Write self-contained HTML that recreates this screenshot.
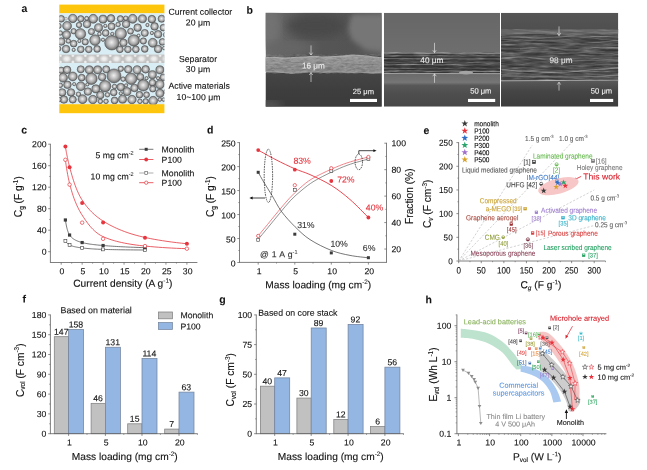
<!DOCTYPE html>
<html><head><meta charset="utf-8"><title>figure</title>
<style>
html,body{margin:0;padding:0;background:#fff;}
body{width:647px;height:470px;overflow:hidden;font-family:"Liberation Sans",sans-serif;}
svg{display:block;will-change:transform;}
text{font-family:"Liberation Sans",sans-serif;}
</style></head><body>
<svg width="647" height="470" viewBox="0 0 647 470">
<defs>
<radialGradient id="sepg"><stop offset="0" stop-color="#f4f4f4"/><stop offset="0.45" stop-color="#ececec" stop-opacity="0.9"/><stop offset="1" stop-color="#e0e0e0" stop-opacity="0"/></radialGradient>
<clipPath id="clipsep"><rect x="59.3" y="54.6" width="105.1" height="8.4"/></clipPath>
<radialGradient id="sph" cx="0.48" cy="0.47" r="0.54"><stop offset="0" stop-color="#f0eeee"/><stop offset="0.3" stop-color="#d0cfcf"/><stop offset="0.6" stop-color="#acacac"/><stop offset="0.85" stop-color="#7e7e7e"/><stop offset="1" stop-color="#5a5a5a"/></radialGradient>
<clipPath id="clipa"><rect x="59.3" y="13.4" width="105.1" height="90.8"/></clipPath>
<filter id="noise1" x="0" y="0" width="1" height="1"><feTurbulence type="fractalNoise" baseFrequency="0.25 0.9" numOctaves="2" seed="3" result="n"/><feColorMatrix type="matrix" values="0 0 0 0 1  0 0 0 0 1  0 0 0 0 1  0.9 0 0 0 -0.28"/></filter>
<filter id="noise2" x="0" y="0" width="1" height="1"><feTurbulence type="fractalNoise" baseFrequency="0.06 0.7" numOctaves="3" seed="11" result="n"/><feColorMatrix type="matrix" values="0 0 0 0 1  0 0 0 0 1  0 0 0 0 1  1.6 0 0 0 -0.62"/></filter>
<filter id="noise3" x="0" y="0" width="1" height="1"><feTurbulence type="fractalNoise" baseFrequency="0.05 0.55" numOctaves="3" seed="5" result="n"/><feColorMatrix type="matrix" values="0 0 0 0 1  0 0 0 0 1  0 0 0 0 1  1.5 0 0 0 -0.6"/></filter>
<filter id="noise3d" x="0" y="0" width="1" height="1"><feTurbulence type="fractalNoise" baseFrequency="0.04 0.5" numOctaves="3" seed="23" result="n"/><feColorMatrix type="matrix" values="0 0 0 0 0  0 0 0 0 0  0 0 0 0 0  1.8 0 0 0 -0.75"/></filter>
<filter id="noise1d" x="0" y="0" width="1" height="1"><feTurbulence type="fractalNoise" baseFrequency="0.12 0.5" numOctaves="3" seed="41" result="n"/><feColorMatrix type="matrix" values="0 0 0 0 0  0 0 0 0 0  0 0 0 0 0  1.8 0 0 0 -0.75"/></filter>
<filter id="blur3"><feGaussianBlur stdDeviation="5"/></filter>
<filter id="blur1"><feGaussianBlur stdDeviation="0.7"/></filter>
<clipPath id="c1"><rect x="265.6" y="12.8" width="116.2" height="93.9"/></clipPath>
<linearGradient id="s1bg" x1="0" y1="0" x2="1" y2="0"><stop offset="0" stop-color="#6e6e6e"/><stop offset="0.35" stop-color="#565656"/><stop offset="0.75" stop-color="#545454"/><stop offset="1" stop-color="#5e5e5e"/></linearGradient>
<linearGradient id="s1lo" x1="0" y1="0" x2="0" y2="1"><stop offset="0" stop-color="#454545"/><stop offset="0.5" stop-color="#3e3e3e"/><stop offset="1" stop-color="#3a3a3a"/></linearGradient>
<linearGradient id="s1st" x1="0" y1="0" x2="0" y2="1"><stop offset="0" stop-color="#a4a4a4"/><stop offset="0.25" stop-color="#949494"/><stop offset="0.8" stop-color="#868686"/><stop offset="1" stop-color="#969696"/></linearGradient>
<filter id="blur2"><feGaussianBlur stdDeviation="2.6"/></filter>
<clipPath id="c2"><rect x="383.9" y="12.8" width="116.1" height="93.9"/></clipPath>
<linearGradient id="s2bg" x1="0" y1="0" x2="0" y2="1"><stop offset="0" stop-color="#676767"/><stop offset="1" stop-color="#6e6e6e"/></linearGradient>
<linearGradient id="s2lo" x1="0" y1="0" x2="0" y2="1"><stop offset="0" stop-color="#6a6a6a"/><stop offset="0.18" stop-color="#717171"/><stop offset="0.27" stop-color="#767676"/><stop offset="0.36" stop-color="#585858"/><stop offset="0.6" stop-color="#4e4e4e"/><stop offset="1" stop-color="#474747"/></linearGradient>
<clipPath id="c3"><rect x="501" y="12.8" width="117.3" height="93.9"/></clipPath>
<linearGradient id="s3bg" x1="0" y1="0" x2="0" y2="1"><stop offset="0" stop-color="#555555"/><stop offset="1" stop-color="#4e4e4e"/></linearGradient>
<linearGradient id="s3lo" x1="0" y1="0" x2="0" y2="1"><stop offset="0" stop-color="#585858"/><stop offset="0.4" stop-color="#454545"/><stop offset="1" stop-color="#3c3c3c"/></linearGradient>
</defs>
<rect x="0" y="0" width="647" height="470" fill="#ffffff"/>
<text x="21.5" y="11.98" font-size="10.5" text-anchor="start" fill="#111" stroke="#111" stroke-width="0.06" font-weight="bold" transform="rotate(0.03 21.5 11.98)" >a</text>
<rect x="59.3" y="4.6" width="105.1" height="8.8" fill="#fdc50c" />
<rect x="59.3" y="13.3" width="105.1" height="91" fill="#d9edf4" />
<rect x="59.3" y="104.2" width="105.1" height="9" fill="#fdc50c" />
<rect x="59.3" y="54.6" width="105.1" height="8.4" fill="#c2c2c2" />
<g clip-path="url(#clipsep)">
<ellipse cx="54.25" cy="58.8" rx="5.0" ry="4.2" fill="url(#sepg)"/>
<circle cx="60.45" cy="55.6" r="2.0" fill="url(#sepg)"/>
<circle cx="60.45" cy="62.0" r="2.0" fill="url(#sepg)"/>
<ellipse cx="66.7" cy="58.8" rx="5.0" ry="4.2" fill="url(#sepg)"/>
<circle cx="72.9" cy="55.6" r="2.0" fill="url(#sepg)"/>
<circle cx="72.9" cy="62.0" r="2.0" fill="url(#sepg)"/>
<ellipse cx="79.15" cy="58.8" rx="5.0" ry="4.2" fill="url(#sepg)"/>
<circle cx="85.35" cy="55.6" r="2.0" fill="url(#sepg)"/>
<circle cx="85.35" cy="62.0" r="2.0" fill="url(#sepg)"/>
<ellipse cx="91.6" cy="58.8" rx="5.0" ry="4.2" fill="url(#sepg)"/>
<circle cx="97.8" cy="55.6" r="2.0" fill="url(#sepg)"/>
<circle cx="97.8" cy="62.0" r="2.0" fill="url(#sepg)"/>
<ellipse cx="104.05" cy="58.8" rx="5.0" ry="4.2" fill="url(#sepg)"/>
<circle cx="110.25" cy="55.6" r="2.0" fill="url(#sepg)"/>
<circle cx="110.25" cy="62.0" r="2.0" fill="url(#sepg)"/>
<ellipse cx="116.5" cy="58.8" rx="5.0" ry="4.2" fill="url(#sepg)"/>
<circle cx="122.7" cy="55.6" r="2.0" fill="url(#sepg)"/>
<circle cx="122.7" cy="62.0" r="2.0" fill="url(#sepg)"/>
<ellipse cx="128.95" cy="58.8" rx="5.0" ry="4.2" fill="url(#sepg)"/>
<circle cx="135.15" cy="55.6" r="2.0" fill="url(#sepg)"/>
<circle cx="135.15" cy="62.0" r="2.0" fill="url(#sepg)"/>
<ellipse cx="141.4" cy="58.8" rx="5.0" ry="4.2" fill="url(#sepg)"/>
<circle cx="147.6" cy="55.6" r="2.0" fill="url(#sepg)"/>
<circle cx="147.6" cy="62.0" r="2.0" fill="url(#sepg)"/>
<ellipse cx="153.85" cy="58.8" rx="5.0" ry="4.2" fill="url(#sepg)"/>
<circle cx="160.05" cy="55.6" r="2.0" fill="url(#sepg)"/>
<circle cx="160.05" cy="62.0" r="2.0" fill="url(#sepg)"/>
<ellipse cx="166.3" cy="58.8" rx="5.0" ry="4.2" fill="url(#sepg)"/>
<circle cx="172.5" cy="55.6" r="2.0" fill="url(#sepg)"/>
<circle cx="172.5" cy="62.0" r="2.0" fill="url(#sepg)"/>
</g>
<g clip-path="url(#clipa)">
<circle cx="61.22" cy="18.77" r="3.38" fill="url(#sph)" stroke="#525252" stroke-width="0.6"/>
<circle cx="66.02" cy="18.77" r="1.46" fill="#dcdcdc" stroke="#7c7c7c" stroke-width="0.45"/>
<circle cx="72.77" cy="18.42" r="4.23" fill="url(#sph)" stroke="#525252" stroke-width="0.6"/>
<circle cx="80.77" cy="18.77" r="3.16" fill="url(#sph)" stroke="#525252" stroke-width="0.6"/>
<circle cx="86.64" cy="18.42" r="2.1" fill="url(#sph)" stroke="#525252" stroke-width="0.6"/>
<circle cx="93.22" cy="18.77" r="4.44" fill="url(#sph)" stroke="#525252" stroke-width="0.6"/>
<circle cx="102.99" cy="19.13" r="4.02" fill="url(#sph)" stroke="#525252" stroke-width="0.6"/>
<circle cx="110.99" cy="18.42" r="3.8" fill="url(#sph)" stroke="#525252" stroke-width="0.6"/>
<circle cx="120.41" cy="18.77" r="3.16" fill="url(#sph)" stroke="#525252" stroke-width="0.6"/>
<circle cx="125.74" cy="18.24" r="2.31" fill="url(#sph)" stroke="#525252" stroke-width="0.6"/>
<circle cx="132.68" cy="18.77" r="4.44" fill="url(#sph)" stroke="#525252" stroke-width="0.6"/>
<circle cx="142.45" cy="18.77" r="4.02" fill="url(#sph)" stroke="#525252" stroke-width="0.6"/>
<circle cx="151.87" cy="19.13" r="3.8" fill="url(#sph)" stroke="#525252" stroke-width="0.6"/>
<circle cx="161.65" cy="18.77" r="3.59" fill="url(#sph)" stroke="#525252" stroke-width="0.6"/>
<circle cx="67.09" cy="25.88" r="4.44" fill="url(#sph)" stroke="#525252" stroke-width="0.6"/>
<circle cx="79" cy="25" r="2.74" fill="url(#sph)" stroke="#525252" stroke-width="0.6"/>
<circle cx="86.99" cy="24.11" r="3.8" fill="url(#sph)" stroke="#525252" stroke-width="0.6"/>
<circle cx="98.55" cy="27.66" r="4.02" fill="url(#sph)" stroke="#525252" stroke-width="0.6"/>
<circle cx="105.3" cy="25.88" r="1.67" fill="url(#sph)" stroke="#525252" stroke-width="0.6"/>
<circle cx="111.52" cy="26.42" r="3.59" fill="url(#sph)" stroke="#525252" stroke-width="0.6"/>
<circle cx="118.1" cy="24.46" r="2.31" fill="url(#sph)" stroke="#525252" stroke-width="0.6"/>
<circle cx="126.1" cy="24.11" r="3.8" fill="url(#sph)" stroke="#525252" stroke-width="0.6"/>
<circle cx="137.65" cy="27.66" r="3.8" fill="url(#sph)" stroke="#525252" stroke-width="0.6"/>
<circle cx="147.43" cy="25" r="1.67" fill="url(#sph)" stroke="#525252" stroke-width="0.6"/>
<circle cx="154.54" cy="26.42" r="3.8" fill="url(#sph)" stroke="#525252" stroke-width="0.6"/>
<circle cx="163.43" cy="27.66" r="3.38" fill="url(#sph)" stroke="#525252" stroke-width="0.6"/>
<circle cx="60.33" cy="32.99" r="2.31" fill="url(#sph)" stroke="#525252" stroke-width="0.6"/>
<circle cx="66.55" cy="34.77" r="4.02" fill="url(#sph)" stroke="#525252" stroke-width="0.6"/>
<circle cx="73.66" cy="31.22" r="2.74" fill="url(#sph)" stroke="#525252" stroke-width="0.6"/>
<circle cx="80.42" cy="33.88" r="5.3" fill="url(#sph)" stroke="#525252" stroke-width="0.6"/>
<circle cx="91.44" cy="31.57" r="3.16" fill="url(#sph)" stroke="#525252" stroke-width="0.6"/>
<circle cx="99.44" cy="33.88" r="1.88" fill="url(#sph)" stroke="#525252" stroke-width="0.6"/>
<circle cx="105.66" cy="32.99" r="3.38" fill="url(#sph)" stroke="#525252" stroke-width="0.6"/>
<circle cx="112.23" cy="33.88" r="1.67" fill="url(#sph)" stroke="#525252" stroke-width="0.6"/>
<circle cx="120.77" cy="33.53" r="5.72" fill="url(#sph)" stroke="#525252" stroke-width="0.6"/>
<circle cx="130.54" cy="31.22" r="2.95" fill="url(#sph)" stroke="#525252" stroke-width="0.6"/>
<circle cx="138.54" cy="35.66" r="1.67" fill="url(#sph)" stroke="#525252" stroke-width="0.6"/>
<circle cx="144.76" cy="32.99" r="3.59" fill="url(#sph)" stroke="#525252" stroke-width="0.6"/>
<circle cx="151.87" cy="32.99" r="1.67" fill="url(#sph)" stroke="#525252" stroke-width="0.6"/>
<circle cx="158.09" cy="34.24" r="3.8" fill="url(#sph)" stroke="#525252" stroke-width="0.6"/>
<circle cx="61.22" cy="41.53" r="3.8" fill="url(#sph)" stroke="#525252" stroke-width="0.6"/>
<circle cx="68.33" cy="40.99" r="2.31" fill="url(#sph)" stroke="#525252" stroke-width="0.6"/>
<circle cx="73.66" cy="43.66" r="3.38" fill="url(#sph)" stroke="#525252" stroke-width="0.6"/>
<circle cx="79.35" cy="40.99" r="1.67" fill="url(#sph)" stroke="#525252" stroke-width="0.6"/>
<circle cx="85.22" cy="41.88" r="3.16" fill="url(#sph)" stroke="#525252" stroke-width="0.6"/>
<circle cx="94.99" cy="40.1" r="5.3" fill="url(#sph)" stroke="#525252" stroke-width="0.6"/>
<circle cx="102.99" cy="39.75" r="1.67" fill="url(#sph)" stroke="#525252" stroke-width="0.6"/>
<circle cx="111.88" cy="42.77" r="7.22" fill="url(#sph)" stroke="#525252" stroke-width="0.6"/>
<circle cx="123.43" cy="42.77" r="3.8" fill="url(#sph)" stroke="#525252" stroke-width="0.6"/>
<circle cx="133.74" cy="40.46" r="5.72" fill="url(#sph)" stroke="#525252" stroke-width="0.6"/>
<circle cx="143.34" cy="40.99" r="3.16" fill="url(#sph)" stroke="#525252" stroke-width="0.6"/>
<circle cx="152.76" cy="42.77" r="4.44" fill="url(#sph)" stroke="#525252" stroke-width="0.6"/>
<circle cx="162.54" cy="41.88" r="3.38" fill="url(#sph)" stroke="#525252" stroke-width="0.6"/>
<circle cx="66.02" cy="48.99" r="3.8" fill="url(#sph)" stroke="#525252" stroke-width="0.6"/>
<circle cx="73.66" cy="49.88" r="1.67" fill="url(#sph)" stroke="#525252" stroke-width="0.6"/>
<circle cx="80.77" cy="49.35" r="3.38" fill="url(#sph)" stroke="#525252" stroke-width="0.6"/>
<circle cx="88.77" cy="49.35" r="3.38" fill="url(#sph)" stroke="#525252" stroke-width="0.6"/>
<circle cx="97.13" cy="48.99" r="3.38" fill="url(#sph)" stroke="#525252" stroke-width="0.6"/>
<circle cx="119.88" cy="49.35" r="3.38" fill="url(#sph)" stroke="#525252" stroke-width="0.6"/>
<circle cx="127.88" cy="49.35" r="3.38" fill="url(#sph)" stroke="#525252" stroke-width="0.6"/>
<circle cx="135.87" cy="49.35" r="3.38" fill="url(#sph)" stroke="#525252" stroke-width="0.6"/>
<circle cx="144.76" cy="48.99" r="3.38" fill="url(#sph)" stroke="#525252" stroke-width="0.6"/>
<circle cx="158.09" cy="48.99" r="3.8" fill="url(#sph)" stroke="#525252" stroke-width="0.6"/>
<circle cx="164.31" cy="48.1" r="1.88" fill="url(#sph)" stroke="#525252" stroke-width="0.6"/>
<circle cx="58.55" cy="25.88" r="2.74" fill="url(#sph)" stroke="#525252" stroke-width="0.6"/>
<circle cx="58.2" cy="48.64" r="2.74" fill="url(#sph)" stroke="#525252" stroke-width="0.6"/>
<circle cx="166.09" cy="34.77" r="2.74" fill="url(#sph)" stroke="#525252" stroke-width="0.6"/>
<circle cx="61.22" cy="70.22" r="3.16" fill="url(#sph)" stroke="#525252" stroke-width="0.6"/>
<circle cx="67.09" cy="69.86" r="3.8" fill="url(#sph)" stroke="#525252" stroke-width="0.6"/>
<circle cx="80.77" cy="69.33" r="3.59" fill="url(#sph)" stroke="#525252" stroke-width="0.6"/>
<circle cx="89.31" cy="69.86" r="4.02" fill="url(#sph)" stroke="#525252" stroke-width="0.6"/>
<circle cx="97.66" cy="69.86" r="4.02" fill="url(#sph)" stroke="#525252" stroke-width="0.6"/>
<circle cx="106.19" cy="69.33" r="3.59" fill="url(#sph)" stroke="#525252" stroke-width="0.6"/>
<circle cx="120.77" cy="68.8" r="2.74" fill="url(#sph)" stroke="#525252" stroke-width="0.6"/>
<circle cx="128.23" cy="69.33" r="3.8" fill="url(#sph)" stroke="#525252" stroke-width="0.6"/>
<circle cx="137.12" cy="69.86" r="4.23" fill="url(#sph)" stroke="#525252" stroke-width="0.6"/>
<circle cx="145.65" cy="69.33" r="3.8" fill="url(#sph)" stroke="#525252" stroke-width="0.6"/>
<circle cx="159.87" cy="69.86" r="4.02" fill="url(#sph)" stroke="#525252" stroke-width="0.6"/>
<circle cx="63" cy="77.69" r="4.44" fill="url(#sph)" stroke="#525252" stroke-width="0.6"/>
<circle cx="72.77" cy="76.44" r="4.44" fill="url(#sph)" stroke="#525252" stroke-width="0.6"/>
<circle cx="81.66" cy="77.69" r="3.38" fill="url(#sph)" stroke="#525252" stroke-width="0.6"/>
<circle cx="91.44" cy="78.75" r="5.72" fill="url(#sph)" stroke="#525252" stroke-width="0.6"/>
<circle cx="102.1" cy="76.97" r="3.8" fill="url(#sph)" stroke="#525252" stroke-width="0.6"/>
<circle cx="114.01" cy="75.91" r="7" fill="url(#sph)" stroke="#525252" stroke-width="0.6"/>
<circle cx="123.08" cy="79.11" r="2.31" fill="url(#sph)" stroke="#525252" stroke-width="0.6"/>
<circle cx="131.08" cy="78.75" r="5.72" fill="url(#sph)" stroke="#525252" stroke-width="0.6"/>
<circle cx="140.32" cy="76.97" r="3.59" fill="url(#sph)" stroke="#525252" stroke-width="0.6"/>
<circle cx="146.54" cy="78.22" r="1.67" fill="url(#sph)" stroke="#525252" stroke-width="0.6"/>
<circle cx="152.4" cy="74.66" r="4.02" fill="url(#sph)" stroke="#525252" stroke-width="0.6"/>
<circle cx="158.09" cy="78.22" r="1.67" fill="url(#sph)" stroke="#525252" stroke-width="0.6"/>
<circle cx="163.43" cy="77.33" r="3.38" fill="url(#sph)" stroke="#525252" stroke-width="0.6"/>
<circle cx="60.33" cy="85.33" r="2.31" fill="url(#sph)" stroke="#525252" stroke-width="0.6"/>
<circle cx="67.44" cy="84.79" r="3.8" fill="url(#sph)" stroke="#525252" stroke-width="0.6"/>
<circle cx="74.2" cy="84.08" r="1.67" fill="url(#sph)" stroke="#525252" stroke-width="0.6"/>
<circle cx="80.77" cy="86.22" r="4.44" fill="url(#sph)" stroke="#525252" stroke-width="0.6"/>
<circle cx="87.35" cy="84.44" r="1.67" fill="url(#sph)" stroke="#525252" stroke-width="0.6"/>
<circle cx="95.88" cy="88.88" r="4.02" fill="url(#sph)" stroke="#525252" stroke-width="0.6"/>
<circle cx="105.12" cy="86.22" r="5.72" fill="url(#sph)" stroke="#525252" stroke-width="0.6"/>
<circle cx="114.54" cy="86.57" r="2.31" fill="url(#sph)" stroke="#525252" stroke-width="0.6"/>
<circle cx="120.77" cy="87.11" r="3.8" fill="url(#sph)" stroke="#525252" stroke-width="0.6"/>
<circle cx="126.1" cy="85.33" r="1.67" fill="url(#sph)" stroke="#525252" stroke-width="0.6"/>
<circle cx="134.45" cy="87.99" r="3.8" fill="url(#sph)" stroke="#525252" stroke-width="0.6"/>
<circle cx="143.34" cy="85.33" r="5.72" fill="url(#sph)" stroke="#525252" stroke-width="0.6"/>
<circle cx="152.4" cy="82.66" r="3.38" fill="url(#sph)" stroke="#525252" stroke-width="0.6"/>
<circle cx="152.76" cy="88.88" r="3.16" fill="url(#sph)" stroke="#525252" stroke-width="0.6"/>
<circle cx="159.87" cy="84.44" r="4.44" fill="url(#sph)" stroke="#525252" stroke-width="0.6"/>
<circle cx="62.11" cy="92.44" r="3.8" fill="url(#sph)" stroke="#525252" stroke-width="0.6"/>
<circle cx="71" cy="92.44" r="3.8" fill="url(#sph)" stroke="#525252" stroke-width="0.6"/>
<circle cx="78.46" cy="94.22" r="2.31" fill="url(#sph)" stroke="#525252" stroke-width="0.6"/>
<circle cx="87.88" cy="91.55" r="3.8" fill="url(#sph)" stroke="#525252" stroke-width="0.6"/>
<circle cx="100.33" cy="95.1" r="3.8" fill="url(#sph)" stroke="#525252" stroke-width="0.6"/>
<circle cx="107.44" cy="94.75" r="2.31" fill="url(#sph)" stroke="#525252" stroke-width="0.6"/>
<circle cx="113.66" cy="92.44" r="3.38" fill="url(#sph)" stroke="#525252" stroke-width="0.6"/>
<circle cx="120.77" cy="93.33" r="1.67" fill="url(#sph)" stroke="#525252" stroke-width="0.6"/>
<circle cx="126.99" cy="91.55" r="4.02" fill="url(#sph)" stroke="#525252" stroke-width="0.6"/>
<circle cx="139.43" cy="94.75" r="3.38" fill="url(#sph)" stroke="#525252" stroke-width="0.6"/>
<circle cx="146.54" cy="94.75" r="2.95" fill="url(#sph)" stroke="#525252" stroke-width="0.6"/>
<circle cx="159.87" cy="93.33" r="4.02" fill="url(#sph)" stroke="#525252" stroke-width="0.6"/>
<circle cx="63.89" cy="99.55" r="3.8" fill="url(#sph)" stroke="#525252" stroke-width="0.6"/>
<circle cx="72.77" cy="99.55" r="3.59" fill="url(#sph)" stroke="#525252" stroke-width="0.6"/>
<circle cx="82.55" cy="99.19" r="4.44" fill="url(#sph)" stroke="#525252" stroke-width="0.6"/>
<circle cx="92.86" cy="99.55" r="4.23" fill="url(#sph)" stroke="#525252" stroke-width="0.6"/>
<circle cx="100.33" cy="101.33" r="2.31" fill="url(#sph)" stroke="#525252" stroke-width="0.6"/>
<circle cx="106.01" cy="101.33" r="2.31" fill="url(#sph)" stroke="#525252" stroke-width="0.6"/>
<circle cx="114.54" cy="100.44" r="3.38" fill="url(#sph)" stroke="#525252" stroke-width="0.6"/>
<circle cx="122.54" cy="99.19" r="4.02" fill="url(#sph)" stroke="#525252" stroke-width="0.6"/>
<circle cx="131.96" cy="99.55" r="4.23" fill="url(#sph)" stroke="#525252" stroke-width="0.6"/>
<circle cx="139.96" cy="101.33" r="2.31" fill="url(#sph)" stroke="#525252" stroke-width="0.6"/>
<circle cx="145.65" cy="101.33" r="2.74" fill="url(#sph)" stroke="#525252" stroke-width="0.6"/>
<circle cx="153.12" cy="100.79" r="4.44" fill="url(#sph)" stroke="#525252" stroke-width="0.6"/>
<circle cx="159.87" cy="99.55" r="1.88" fill="url(#sph)" stroke="#525252" stroke-width="0.6"/>
<circle cx="163.78" cy="99.55" r="1.88" fill="url(#sph)" stroke="#525252" stroke-width="0.6"/>
<circle cx="58.91" cy="99.55" r="2.31" fill="url(#sph)" stroke="#525252" stroke-width="0.6"/>
<circle cx="166.09" cy="91.55" r="2.31" fill="url(#sph)" stroke="#525252" stroke-width="0.6"/>
</g>
<text x="200.3" y="14.83" font-size="8.7" text-anchor="middle" fill="#141414" stroke="#141414" stroke-width="0.11" transform="rotate(0.03 200.3 14.83)" >Current collector</text>
<text x="198" y="25.63" font-size="8.7" text-anchor="middle" fill="#141414" stroke="#141414" stroke-width="0.11" transform="rotate(0.03 198 25.63)" >20 &#956;m</text>
<text x="198" y="61.93" font-size="8.7" text-anchor="middle" fill="#141414" stroke="#141414" stroke-width="0.11" transform="rotate(0.03 198 61.93)" >Separator</text>
<text x="198" y="72.13" font-size="8.7" text-anchor="middle" fill="#141414" stroke="#141414" stroke-width="0.11" transform="rotate(0.03 198 72.13)" >30 &#956;m</text>
<text x="199.2" y="88.73" font-size="8.7" text-anchor="middle" fill="#141414" stroke="#141414" stroke-width="0.11" transform="rotate(0.03 199.2 88.73)" >Active materials</text>
<text x="198.5" y="100.13" font-size="8.7" text-anchor="middle" fill="#141414" stroke="#141414" stroke-width="0.11" transform="rotate(0.03 198.5 100.13)" >10~100 &#956;m</text>
<text x="246.4" y="13.78" font-size="10.5" text-anchor="start" fill="#111" stroke="#111" stroke-width="0.06" font-weight="bold" transform="rotate(0.03 246.4 13.78)" >b</text>
<g clip-path="url(#c1)">
<rect x="265.6" y="12.8" width="116.2" height="93.9" fill="url(#s1bg)" />
<path d="M352,14 L384,14 L384,52 L366,50 L352,40 L347,28 Z" fill="#767676" filter="url(#blur2)"/>
<ellipse cx="268" cy="26" rx="12" ry="20" fill="#727272" filter="url(#blur3)"/>
<ellipse cx="290" cy="48" rx="26" ry="7" fill="#666666" filter="url(#blur3)"/>
<ellipse cx="316" cy="26" rx="30" ry="12" fill="#4a4a4a" filter="url(#blur3)"/>
<rect x="265.6" y="73" width="116.2" height="33.7" fill="url(#s1lo)" />
<ellipse cx="268" cy="106" rx="14" ry="5" fill="#5a5a5a" filter="url(#blur3)"/>
<path d="M265,57.6 C266.67,57.57 271.67,57.33 275,57.4 C278.33,57.47 281.5,58 285,58 C288.5,58 292.5,57.57 296,57.4 C299.5,57.23 303,57.2 306,57 C309,56.8 311.33,56.2 314,56.2 C316.67,56.2 318.83,56.93 322,57 C325.17,57.07 329.17,56.8 333,56.6 C336.83,56.4 341.83,56.07 345,55.8 C348.17,55.53 349.5,55.03 352,55 C354.5,54.97 357.33,55.4 360,55.6 C362.67,55.8 365.33,55.93 368,56.2 C370.67,56.47 373.67,56.93 376,57.2 C378.33,57.47 381,57.7 382,57.8 L382,72.8 C380.33,72.87 375.67,73.3 372,73.2 C368.33,73.1 363.67,72.3 360,72.2 C356.33,72.1 353.67,72.63 350,72.6 C346.33,72.57 342.33,72.03 338,72 C333.67,71.97 328.33,72.43 324,72.4 C319.67,72.37 316,71.77 312,71.8 C308,71.83 303.33,72.33 300,72.6 C296.67,72.87 294.67,73.4 292,73.4 C289.33,73.4 286.83,72.87 284,72.6 C281.17,72.33 278.17,72 275,71.8 C271.83,71.6 266.67,71.47 265,71.4 Z" fill="url(#s1st)" stroke="none" stroke-width="0.8" />
<g style="mix-blend-mode:normal">
<path d="M265,57.6 C266.67,57.57 271.67,57.33 275,57.4 C278.33,57.47 281.5,58 285,58 C288.5,58 292.5,57.57 296,57.4 C299.5,57.23 303,57.2 306,57 C309,56.8 311.33,56.2 314,56.2 C316.67,56.2 318.83,56.93 322,57 C325.17,57.07 329.17,56.8 333,56.6 C336.83,56.4 341.83,56.07 345,55.8 C348.17,55.53 349.5,55.03 352,55 C354.5,54.97 357.33,55.4 360,55.6 C362.67,55.8 365.33,55.93 368,56.2 C370.67,56.47 373.67,56.93 376,57.2 C378.33,57.47 381,57.7 382,57.8 L382,72.8 C380.33,72.87 375.67,73.3 372,73.2 C368.33,73.1 363.67,72.3 360,72.2 C356.33,72.1 353.67,72.63 350,72.6 C346.33,72.57 342.33,72.03 338,72 C333.67,71.97 328.33,72.43 324,72.4 C319.67,72.37 316,71.77 312,71.8 C308,71.83 303.33,72.33 300,72.6 C296.67,72.87 294.67,73.4 292,73.4 C289.33,73.4 286.83,72.87 284,72.6 C281.17,72.33 278.17,72 275,71.8 C271.83,71.6 266.67,71.47 265,71.4 Z" fill="#fff" opacity="0.33" filter="url(#noise1)"/>
</g>
<path d="M265,57.6 C266.67,57.57 271.67,57.33 275,57.4 C278.33,57.47 281.5,58 285,58 C288.5,58 292.5,57.57 296,57.4 C299.5,57.23 303,57.2 306,57 C309,56.8 311.33,56.2 314,56.2 C316.67,56.2 318.83,56.93 322,57 C325.17,57.07 329.17,56.8 333,56.6 C336.83,56.4 341.83,56.07 345,55.8 C348.17,55.53 349.5,55.03 352,55 C354.5,54.97 357.33,55.4 360,55.6 C362.67,55.8 365.33,55.93 368,56.2 C370.67,56.47 373.67,56.93 376,57.2 C378.33,57.47 381,57.7 382,57.8 L382,72.8 C380.33,72.87 375.67,73.3 372,73.2 C368.33,73.1 363.67,72.3 360,72.2 C356.33,72.1 353.67,72.63 350,72.6 C346.33,72.57 342.33,72.03 338,72 C333.67,71.97 328.33,72.43 324,72.4 C319.67,72.37 316,71.77 312,71.8 C308,71.83 303.33,72.33 300,72.6 C296.67,72.87 294.67,73.4 292,73.4 C289.33,73.4 286.83,72.87 284,72.6 C281.17,72.33 278.17,72 275,71.8 C271.83,71.6 266.67,71.47 265,71.4 Z" fill="#000" opacity="0.22" filter="url(#noise1d)"/>
<path d="M265,57.6 C266.67,57.57 271.67,57.33 275,57.4 C278.33,57.47 281.5,58 285,58 C288.5,58 292.5,57.57 296,57.4 C299.5,57.23 303,57.2 306,57 C309,56.8 311.33,56.2 314,56.2 C316.67,56.2 318.83,56.93 322,57 C325.17,57.07 329.17,56.8 333,56.6 C336.83,56.4 341.83,56.07 345,55.8 C348.17,55.53 349.5,55.03 352,55 C354.5,54.97 357.33,55.4 360,55.6 C362.67,55.8 365.33,55.93 368,56.2 C370.67,56.47 373.67,56.93 376,57.2 C378.33,57.47 381,57.7 382,57.8" fill="none" stroke="#b8b8b8" stroke-width="0.8" />
<path d="M382,72.8 C380.33,72.87 375.67,73.3 372,73.2 C368.33,73.1 363.67,72.3 360,72.2 C356.33,72.1 353.67,72.63 350,72.6 C346.33,72.57 342.33,72.03 338,72 C333.67,71.97 328.33,72.43 324,72.4 C319.67,72.37 316,71.77 312,71.8 C308,71.83 303.33,72.33 300,72.6 C296.67,72.87 294.67,73.4 292,73.4 C289.33,73.4 286.83,72.87 284,72.6 C281.17,72.33 278.17,72 275,71.8 C271.83,71.6 266.67,71.47 265,71.4" fill="none" stroke="#b0b0b0" stroke-width="0.6" />
</g>
<line x1="311" y1="45.4" x2="311" y2="55" stroke="#f0f0f0" stroke-width="0.6" />
<polyline points="309.3,52.6 311,55 312.7,52.6" fill="none" stroke="#f0f0f0" stroke-width="0.6" />
<line x1="311" y1="82" x2="311" y2="72.6" stroke="#f0f0f0" stroke-width="0.6" />
<polyline points="309.3,75 311,72.6 312.7,75" fill="none" stroke="#f0f0f0" stroke-width="0.6" />
<text x="313.4" y="68.55" font-size="8.2" text-anchor="middle" fill="#ececec" stroke="#ececec" stroke-width="0.11" transform="rotate(0.03 313.4 68.55)" >16 &#956;m</text>
<text x="363.4" y="94.14" font-size="7.6" text-anchor="middle" fill="#f2f2f2" stroke="#f2f2f2" stroke-width="0.1" transform="rotate(0.03 363.4 94.14)" >25 &#956;m</text>
<rect x="350" y="98.9" width="27" height="3.1" fill="#ffffff" />
<g clip-path="url(#c2)">
<rect x="383.9" y="12.8" width="116.1" height="41" fill="url(#s2bg)" />
<rect x="383.9" y="52.6" width="116.1" height="21" fill="#363636" />
<rect x="383.9" y="52.6" width="116.1" height="21" fill="#fff" opacity="0.45" filter="url(#noise2)"/>
<rect x="383.9" y="73.4" width="116.1" height="33.3" fill="url(#s2lo)" />
<line x1="383.9" y1="53" x2="500" y2="53.3" stroke="#e0e0e0" stroke-width="0.7" opacity="0.75"/>
<line x1="383.9" y1="55.8" x2="500" y2="56.1" stroke="#e0e0e0" stroke-width="0.6" opacity="0.45"/>
<line x1="383.9" y1="58.6" x2="500" y2="58.9" stroke="#e0e0e0" stroke-width="0.6" opacity="0.5"/>
<line x1="383.9" y1="62" x2="500" y2="62.3" stroke="#e0e0e0" stroke-width="0.5" opacity="0.35"/>
<line x1="383.9" y1="64.6" x2="500" y2="64.9" stroke="#e0e0e0" stroke-width="0.6" opacity="0.4"/>
<line x1="383.9" y1="68" x2="500" y2="68.3" stroke="#e0e0e0" stroke-width="0.5" opacity="0.3"/>
<line x1="383.9" y1="71" x2="500" y2="71.3" stroke="#e0e0e0" stroke-width="0.6" opacity="0.45"/>
<line x1="383.9" y1="73.4" x2="500" y2="73.7" stroke="#e0e0e0" stroke-width="0.7" opacity="0.55"/>
<rect x="383.9" y="56.6" width="116.1" height="1.4" fill="#2c2c2c" opacity="0.55"/>
<rect x="383.9" y="60" width="116.1" height="1.5" fill="#2c2c2c" opacity="0.55"/>
<rect x="383.9" y="65.6" width="116.1" height="1.8" fill="#2c2c2c" opacity="0.55"/>
<rect x="383.9" y="69" width="116.1" height="1.3" fill="#2c2c2c" opacity="0.55"/>
<ellipse cx="466" cy="72.6" rx="7" ry="1.8" fill="#a4a4a4"/>
</g>
<line x1="434.5" y1="42.8" x2="434.5" y2="52.6" stroke="#f0f0f0" stroke-width="0.6" />
<polyline points="432.8,50.2 434.5,52.6 436.2,50.2" fill="none" stroke="#f0f0f0" stroke-width="0.6" />
<line x1="434.5" y1="82.8" x2="434.5" y2="73.8" stroke="#f0f0f0" stroke-width="0.6" />
<polyline points="432.8,76.2 434.5,73.8 436.2,76.2" fill="none" stroke="#f0f0f0" stroke-width="0.6" />
<text x="431.8" y="62.95" font-size="8.2" text-anchor="middle" fill="#ececec" stroke="#ececec" stroke-width="0.11" transform="rotate(0.03 431.8 62.95)" >40 &#956;m</text>
<text x="480.8" y="93.54" font-size="7.6" text-anchor="middle" fill="#f2f2f2" stroke="#f2f2f2" stroke-width="0.1" transform="rotate(0.03 480.8 93.54)" >50 &#956;m</text>
<rect x="468" y="98.9" width="27.2" height="3.1" fill="#ffffff" />
<g clip-path="url(#c3)">
<rect x="501" y="12.8" width="117.3" height="20" fill="url(#s3bg)" />
<rect x="501" y="29.4" width="117.3" height="52" fill="#4e4e4e" />
<rect x="501" y="29.4" width="117.3" height="52" fill="#fff" opacity="0.42" filter="url(#noise3)"/>
<rect x="501" y="29.4" width="117.3" height="52" fill="#000" opacity="0.5" filter="url(#noise3d)"/>
<rect x="501" y="29.4" width="117.3" height="5" fill="#8a8a8a" opacity="0.45"/>
<rect x="501" y="81" width="117.3" height="25.7" fill="url(#s3lo)" />
<line x1="501" y1="80.8" x2="618.3" y2="80.2" stroke="#d8d8d8" stroke-width="0.8" opacity="0.8"/>
<path d="M502,70 C506.67,70.25 520.33,71.08 530,71.5 C539.67,71.92 550,72.75 560,72.5 C570,72.25 580.33,70.75 590,70 C599.67,69.25 613.33,68.33 618,68" fill="none" stroke="#e4e4e4" stroke-width="0.7" opacity="0.5"/>
<path d="M502,58 C505.83,57.83 517,56.67 525,57 C533,57.33 540.83,59.83 550,60 C559.17,60.17 568.67,58 580,58 C591.33,58 611.67,59.67 618,60" fill="none" stroke="#e4e4e4" stroke-width="0.7" opacity="0.3"/>
<path d="M520,49 C524.17,48.67 536.67,46.83 545,47 C553.33,47.17 560.83,50 570,50 C579.17,50 592,47.33 600,47 C608,46.67 615,47.83 618,48" fill="none" stroke="#e4e4e4" stroke-width="0.7" opacity="0.3"/>
<path d="M502,37 C508.33,37.17 528.67,38.17 540,38 C551.33,37.83 557,36.17 570,36 C583,35.83 610,36.83 618,37" fill="none" stroke="#e4e4e4" stroke-width="0.7" opacity="0.35"/>
<path d="M502,76 C508.33,76.08 527,76.33 540,76.5 C553,76.67 567,77.25 580,77 C593,76.75 611.67,75.33 618,75" fill="none" stroke="#e4e4e4" stroke-width="0.7" opacity="0.4"/>
</g>
<line x1="559" y1="26.4" x2="559" y2="35.6" stroke="#f0f0f0" stroke-width="0.6" />
<polyline points="557.3,33.2 559,35.6 560.7,33.2" fill="none" stroke="#f0f0f0" stroke-width="0.6" />
<line x1="559" y1="90.6" x2="559" y2="82.2" stroke="#f0f0f0" stroke-width="0.6" />
<polyline points="557.3,84.6 559,82.2 560.7,84.6" fill="none" stroke="#f0f0f0" stroke-width="0.6" />
<text x="561" y="62.95" font-size="8.2" text-anchor="middle" fill="#e4e4e4" stroke="#e4e4e4" stroke-width="0.11" transform="rotate(0.03 561 62.95)" >98 &#956;m</text>
<text x="601.5" y="93.54" font-size="7.6" text-anchor="middle" fill="#f2f2f2" stroke="#f2f2f2" stroke-width="0.1" transform="rotate(0.03 601.5 93.54)" >50 &#956;m</text>
<rect x="590" y="98.9" width="23.2" height="3.1" fill="#ffffff" />
<text x="21.3" y="133.48" font-size="10.5" text-anchor="start" fill="#111" stroke="#111" stroke-width="0.06" font-weight="bold" transform="rotate(0.03 21.3 133.48)" >c</text>
<line x1="50.4" y1="143.8" x2="50.4" y2="262.9" stroke="#5e5e5e" stroke-width="0.8" />
<line x1="50.4" y1="262.5" x2="197.4" y2="262.5" stroke="#5e5e5e" stroke-width="0.8" />
<line x1="48.2" y1="251.7" x2="50.4" y2="251.7" stroke="#5e5e5e" stroke-width="0.7" />
<text x="46.6" y="254.83" font-size="8.7" text-anchor="end" fill="#141414" stroke="#141414" stroke-width="0.11" transform="rotate(0.03 46.6 254.83)" >0</text>
<line x1="49.2" y1="240.95" x2="50.4" y2="240.95" stroke="#5e5e5e" stroke-width="0.6" />
<line x1="48.2" y1="230.2" x2="50.4" y2="230.2" stroke="#5e5e5e" stroke-width="0.7" />
<text x="46.6" y="233.33" font-size="8.7" text-anchor="end" fill="#141414" stroke="#141414" stroke-width="0.11" transform="rotate(0.03 46.6 233.33)" >40</text>
<line x1="49.2" y1="219.45" x2="50.4" y2="219.45" stroke="#5e5e5e" stroke-width="0.6" />
<line x1="48.2" y1="208.7" x2="50.4" y2="208.7" stroke="#5e5e5e" stroke-width="0.7" />
<text x="46.6" y="211.83" font-size="8.7" text-anchor="end" fill="#141414" stroke="#141414" stroke-width="0.11" transform="rotate(0.03 46.6 211.83)" >80</text>
<line x1="49.2" y1="197.95" x2="50.4" y2="197.95" stroke="#5e5e5e" stroke-width="0.6" />
<line x1="48.2" y1="187.2" x2="50.4" y2="187.2" stroke="#5e5e5e" stroke-width="0.7" />
<text x="46.6" y="190.33" font-size="8.7" text-anchor="end" fill="#141414" stroke="#141414" stroke-width="0.11" transform="rotate(0.03 46.6 190.33)" >120</text>
<line x1="49.2" y1="176.45" x2="50.4" y2="176.45" stroke="#5e5e5e" stroke-width="0.6" />
<line x1="48.2" y1="165.7" x2="50.4" y2="165.7" stroke="#5e5e5e" stroke-width="0.7" />
<text x="46.6" y="168.83" font-size="8.7" text-anchor="end" fill="#141414" stroke="#141414" stroke-width="0.11" transform="rotate(0.03 46.6 168.83)" >160</text>
<line x1="49.2" y1="154.95" x2="50.4" y2="154.95" stroke="#5e5e5e" stroke-width="0.6" />
<line x1="48.2" y1="144.2" x2="50.4" y2="144.2" stroke="#5e5e5e" stroke-width="0.7" />
<text x="46.6" y="147.33" font-size="8.7" text-anchor="end" fill="#141414" stroke="#141414" stroke-width="0.11" transform="rotate(0.03 46.6 147.33)" >200</text>
<line x1="61.2" y1="262.5" x2="61.2" y2="264.7" stroke="#5e5e5e" stroke-width="0.7" />
<text x="62" y="274.23" font-size="8.7" text-anchor="middle" fill="#141414" stroke="#141414" stroke-width="0.11" transform="rotate(0.03 62 274.23)" >0</text>
<line x1="71.68" y1="262.5" x2="71.68" y2="263.7" stroke="#5e5e5e" stroke-width="0.6" />
<line x1="82.15" y1="262.5" x2="82.15" y2="264.7" stroke="#5e5e5e" stroke-width="0.7" />
<text x="82.95" y="274.23" font-size="8.7" text-anchor="middle" fill="#141414" stroke="#141414" stroke-width="0.11" transform="rotate(0.03 82.95 274.23)" >5</text>
<line x1="92.62" y1="262.5" x2="92.62" y2="263.7" stroke="#5e5e5e" stroke-width="0.6" />
<line x1="103.1" y1="262.5" x2="103.1" y2="264.7" stroke="#5e5e5e" stroke-width="0.7" />
<text x="103.9" y="274.23" font-size="8.7" text-anchor="middle" fill="#141414" stroke="#141414" stroke-width="0.11" transform="rotate(0.03 103.9 274.23)" >10</text>
<line x1="113.58" y1="262.5" x2="113.58" y2="263.7" stroke="#5e5e5e" stroke-width="0.6" />
<line x1="124.05" y1="262.5" x2="124.05" y2="264.7" stroke="#5e5e5e" stroke-width="0.7" />
<text x="124.85" y="274.23" font-size="8.7" text-anchor="middle" fill="#141414" stroke="#141414" stroke-width="0.11" transform="rotate(0.03 124.85 274.23)" >15</text>
<line x1="134.53" y1="262.5" x2="134.53" y2="263.7" stroke="#5e5e5e" stroke-width="0.6" />
<line x1="145" y1="262.5" x2="145" y2="264.7" stroke="#5e5e5e" stroke-width="0.7" />
<text x="145.8" y="274.23" font-size="8.7" text-anchor="middle" fill="#141414" stroke="#141414" stroke-width="0.11" transform="rotate(0.03 145.8 274.23)" >20</text>
<line x1="155.48" y1="262.5" x2="155.48" y2="263.7" stroke="#5e5e5e" stroke-width="0.6" />
<line x1="165.95" y1="262.5" x2="165.95" y2="264.7" stroke="#5e5e5e" stroke-width="0.7" />
<text x="166.75" y="274.23" font-size="8.7" text-anchor="middle" fill="#141414" stroke="#141414" stroke-width="0.11" transform="rotate(0.03 166.75 274.23)" >25</text>
<line x1="176.43" y1="262.5" x2="176.43" y2="263.7" stroke="#5e5e5e" stroke-width="0.6" />
<line x1="186.9" y1="262.5" x2="186.9" y2="264.7" stroke="#5e5e5e" stroke-width="0.7" />
<text x="187.7" y="274.23" font-size="8.7" text-anchor="middle" fill="#141414" stroke="#141414" stroke-width="0.11" transform="rotate(0.03 187.7 274.23)" >30</text>
<text x="122.8" y="286.77" font-size="10.2" text-anchor="middle" fill="#141414" stroke="#141414" stroke-width="0.13" transform="rotate(0.03 122.8 286.77)" >Current density (A g<tspan dy="-4.08" font-size="6.43" stroke-width="0.05">-1</tspan><tspan dy="4.08">)</tspan></text>
<text x="18.5" y="200.37" font-size="10.2" text-anchor="middle" fill="#141414" stroke="#141414" stroke-width="0.13" transform="rotate(-90 18.5 196.7)" >C<tspan dy="1.63" font-size="6.43">g</tspan><tspan dy="-1.63"> (F g</tspan><tspan dy="-4.08" font-size="6.43" stroke-width="0.05">-1</tspan><tspan dy="4.08">)</tspan></text>
<polyline points="65.39,240.95 65.55,241.21 65.72,241.47 65.89,241.73 66.08,241.98 66.26,242.22 66.46,242.47 66.66,242.71 66.87,242.94 67.09,243.17 67.32,243.39 67.56,243.61 67.8,243.82 68.06,244.03 68.32,244.22 68.6,244.41 68.89,244.6 69.18,244.77 69.49,244.94 69.81,245.1 70.15,245.25 70.49,245.4 70.85,245.55 71.22,245.69 71.61,245.83 72.01,245.97 72.43,246.1 72.86,246.23 73.32,246.36 73.78,246.49 74.27,246.61 74.78,246.73 75.3,246.85 75.84,246.96 76.41,247.07 77,247.18 77.61,247.29 78.24,247.4 78.9,247.5 79.59,247.6 80.3,247.7 81.03,247.8 81.8,247.9 82.6,247.99 83.42,248.09 84.28,248.18 85.18,248.28 86.1,248.37 87.07,248.46 88.06,248.55 89.1,248.64 90.18,248.73 91.3,248.81 92.46,248.89 93.67,248.97 94.93,249.04 96.23,249.12 97.59,249.18 98.99,249.24 100.45,249.3 101.97,249.35 103.55,249.4 105.18,249.45 106.88,249.49 108.65,249.54 110.48,249.58 112.39,249.62 114.36,249.66 116.42,249.7 118.55,249.74 120.77,249.77 123.07,249.81 125.46,249.84 127.95,249.87 130.53,249.89 133.21,249.92 135.99,249.94 138.88,249.96 141.88,249.97 145,249.98" fill="none" stroke="#3c3c3c" stroke-width="0.7" stroke-linejoin="round"/>
<polyline points="65.39,219.99 65.55,221.03 65.72,222.05 65.89,223.07 66.08,224.07 66.26,225.05 66.46,226 66.66,226.94 66.87,227.84 67.09,228.72 67.32,229.57 67.56,230.38 67.8,231.16 68.06,231.9 68.32,232.59 68.6,233.24 68.89,233.85 69.18,234.4 69.49,234.91 69.81,235.37 70.15,235.81 70.49,236.23 70.85,236.65 71.22,237.04 71.61,237.42 72.01,237.79 72.43,238.15 72.86,238.49 73.32,238.82 73.78,239.14 74.27,239.45 74.78,239.75 75.3,240.04 75.84,240.32 76.41,240.58 77,240.84 77.61,241.1 78.24,241.34 78.9,241.58 79.59,241.81 80.3,242.04 81.03,242.26 81.8,242.47 82.6,242.68 83.42,242.88 84.28,243.08 85.18,243.26 86.1,243.44 87.07,243.62 88.06,243.79 89.1,243.96 90.18,244.12 91.3,244.27 92.46,244.43 93.67,244.58 94.93,244.72 96.23,244.87 97.59,245.01 98.99,245.15 100.45,245.28 101.97,245.42 103.55,245.56 105.18,245.69 106.88,245.82 108.65,245.96 110.48,246.09 112.39,246.21 114.36,246.34 116.42,246.46 118.55,246.58 120.77,246.7 123.07,246.82 125.46,246.93 127.95,247.05 130.53,247.16 133.21,247.26 135.99,247.37 138.88,247.47 141.88,247.57 145,247.67" fill="none" stroke="#3c3c3c" stroke-width="0.7" stroke-linejoin="round"/>
<polyline points="65.39,159.79 65.57,161.25 65.77,162.71 65.97,164.17 66.18,165.64 66.4,167.1 66.63,168.57 66.86,170.03 67.11,171.5 67.37,172.97 67.64,174.44 67.93,175.91 68.22,177.39 68.53,178.86 68.86,180.33 69.19,181.81 69.54,183.29 69.91,184.77 70.29,186.26 70.69,187.76 71.11,189.27 71.55,190.78 72,192.3 72.48,193.81 72.97,195.33 73.49,196.85 74.03,198.37 74.6,199.88 75.19,201.39 75.8,202.9 76.45,204.4 77.12,205.89 77.82,207.37 78.55,208.85 79.31,210.31 80.11,211.76 80.94,213.19 81.81,214.61 82.71,216.03 83.66,217.48 84.65,218.96 85.68,220.46 86.76,221.97 87.88,223.48 89.06,224.98 90.28,226.46 91.56,227.91 92.9,229.31 94.29,230.66 95.75,231.95 97.27,233.16 98.85,234.29 100.51,235.32 102.24,236.24 104.04,237.07 105.93,237.85 107.9,238.6 109.95,239.33 112.1,240.02 114.33,240.69 116.67,241.33 119.11,241.94 121.66,242.52 124.32,243.07 127.1,243.6 130,244.1 133.02,244.58 136.18,245.02 139.48,245.44 142.93,245.84 146.52,246.21 150.27,246.56 154.19,246.9 158.28,247.22 162.56,247.52 167.01,247.81 171.67,248.06 176.53,248.3 181.6,248.51 186.9,248.69" fill="none" stroke="#e5363f" stroke-width="0.8" stroke-linejoin="round"/>
<polyline points="65.39,146.62 65.57,147.74 65.77,148.89 65.97,150.05 66.18,151.22 66.4,152.42 66.63,153.63 66.86,154.85 67.11,156.1 67.37,157.36 67.64,158.63 67.93,159.93 68.22,161.24 68.53,162.56 68.86,163.9 69.19,165.26 69.54,166.64 69.91,168.04 70.29,169.49 70.69,170.97 71.11,172.5 71.55,174.05 72,175.63 72.48,177.23 72.97,178.85 73.49,180.49 74.03,182.13 74.6,183.78 75.19,185.43 75.8,187.07 76.45,188.71 77.12,190.33 77.82,191.94 78.55,193.52 79.31,195.08 80.11,196.61 80.94,198.1 81.81,199.56 82.71,200.97 83.66,202.38 84.65,203.77 85.68,205.16 86.76,206.53 87.88,207.89 89.06,209.23 90.28,210.56 91.56,211.87 92.9,213.17 94.29,214.44 95.75,215.7 97.27,216.94 98.85,218.15 100.51,219.34 102.24,220.51 104.04,221.65 105.93,222.79 107.9,223.92 109.95,225.05 112.1,226.16 114.33,227.26 116.67,228.34 119.11,229.41 121.66,230.45 124.32,231.47 127.1,232.47 130,233.44 133.02,234.38 136.18,235.28 139.48,236.15 142.93,236.99 146.52,237.78 150.27,238.55 154.19,239.3 158.28,240.01 162.56,240.7 167.01,241.37 171.67,242 176.53,242.61 181.6,243.19 186.9,243.74" fill="none" stroke="#e5363f" stroke-width="0.8" stroke-linejoin="round"/>
<rect x="63.94" y="239.5" width="2.9" height="2.9" fill="#fff" stroke="#3c3c3c" stroke-width="0.6" />
<rect x="68.13" y="243.53" width="2.9" height="2.9" fill="#fff" stroke="#3c3c3c" stroke-width="0.6" />
<rect x="80.7" y="246.49" width="2.9" height="2.9" fill="#fff" stroke="#3c3c3c" stroke-width="0.6" />
<rect x="101.65" y="247.94" width="2.9" height="2.9" fill="#fff" stroke="#3c3c3c" stroke-width="0.6" />
<rect x="143.55" y="248.53" width="2.9" height="2.9" fill="#fff" stroke="#3c3c3c" stroke-width="0.6" />
<rect x="63.79" y="218.39" width="3.2" height="3.2" fill="#3c3c3c" />
<rect x="67.98" y="233.44" width="3.2" height="3.2" fill="#3c3c3c" />
<rect x="80.55" y="240.96" width="3.2" height="3.2" fill="#3c3c3c" />
<rect x="101.5" y="243.92" width="3.2" height="3.2" fill="#3c3c3c" />
<rect x="143.4" y="246.07" width="3.2" height="3.2" fill="#3c3c3c" />
<circle cx="65.39" cy="159.79" r="1.75" fill="#fff" stroke="#e5363f" stroke-width="0.7"/>
<circle cx="69.58" cy="184.62" r="1.75" fill="#fff" stroke="#e5363f" stroke-width="0.7"/>
<circle cx="82.15" cy="222.67" r="1.75" fill="#fff" stroke="#e5363f" stroke-width="0.7"/>
<circle cx="103.1" cy="238.8" r="1.75" fill="#fff" stroke="#e5363f" stroke-width="0.7"/>
<circle cx="145" cy="246.06" r="1.75" fill="#fff" stroke="#e5363f" stroke-width="0.7"/>
<circle cx="186.9" cy="248.69" r="1.75" fill="#fff" stroke="#e5363f" stroke-width="0.7"/>
<circle cx="65.39" cy="146.62" r="2" fill="#e5363f"/>
<circle cx="69.58" cy="167.31" r="2" fill="#e5363f"/>
<circle cx="82.15" cy="203.06" r="2" fill="#e5363f"/>
<circle cx="103.1" cy="222.41" r="2" fill="#e5363f"/>
<circle cx="145" cy="237.72" r="2" fill="#e5363f"/>
<circle cx="186.9" cy="243.74" r="2" fill="#e5363f"/>
<line x1="139.2" y1="149.3" x2="153.4" y2="149.3" stroke="#3c3c3c" stroke-width="0.7" />
<rect x="144.7" y="147.8" width="3" height="3" fill="#3c3c3c" />
<line x1="139.2" y1="159.5" x2="153.4" y2="159.5" stroke="#e5363f" stroke-width="0.8" />
<circle cx="146.2" cy="159.5" r="1.9" fill="#e5363f"/>
<line x1="139.2" y1="173" x2="153.4" y2="173" stroke="#8a8a8a" stroke-width="0.7" />
<rect x="144.85" y="171.65" width="2.7" height="2.7" fill="#fff" stroke="#555" stroke-width="0.6" />
<line x1="139.2" y1="182.7" x2="153.4" y2="182.7" stroke="#e5363f" stroke-width="0.8" />
<circle cx="146.2" cy="182.7" r="1.65" fill="#fff" stroke="#e5363f" stroke-width="0.7"/>
<text x="161.6" y="152.43" font-size="8.7" text-anchor="start" fill="#141414" stroke="#141414" stroke-width="0.11" transform="rotate(0.03 161.6 152.43)" >Monolith</text>
<text x="161.6" y="162.63" font-size="8.7" text-anchor="start" fill="#141414" stroke="#141414" stroke-width="0.11" transform="rotate(0.03 161.6 162.63)" >P100</text>
<text x="161.6" y="176.13" font-size="8.7" text-anchor="start" fill="#141414" stroke="#141414" stroke-width="0.11" transform="rotate(0.03 161.6 176.13)" >Monolith</text>
<text x="161.6" y="185.83" font-size="8.7" text-anchor="start" fill="#141414" stroke="#141414" stroke-width="0.11" transform="rotate(0.03 161.6 185.83)" >P100</text>
<text x="133.6" y="158.33" font-size="8.7" text-anchor="end" fill="#141414" stroke="#141414" stroke-width="0.11" transform="rotate(0.03 133.6 158.33)" >5 mg cm<tspan dy="-3.48" font-size="5.48" stroke-width="0.05">-2</tspan></text>
<text x="133.6" y="179.53" font-size="8.7" text-anchor="end" fill="#141414" stroke="#141414" stroke-width="0.11" transform="rotate(0.03 133.6 179.53)" >10 mg cm<tspan dy="-3.48" font-size="5.48" stroke-width="0.05">-2</tspan></text>
<text x="207" y="133.38" font-size="10.5" text-anchor="start" fill="#111" stroke="#111" stroke-width="0.06" font-weight="bold" transform="rotate(0.03 207 133.38)" >d</text>
<line x1="239.5" y1="142.2" x2="239.5" y2="262.8" stroke="#5e5e5e" stroke-width="0.8" />
<line x1="386.5" y1="142.8" x2="386.5" y2="262.8" stroke="#5e5e5e" stroke-width="0.8" />
<line x1="239.5" y1="262.4" x2="386.5" y2="262.4" stroke="#5e5e5e" stroke-width="0.8" />
<line x1="237.3" y1="262.5" x2="239.5" y2="262.5" stroke="#5e5e5e" stroke-width="0.7" />
<text x="235.7" y="266.43" font-size="8.7" text-anchor="end" fill="#141414" stroke="#141414" stroke-width="0.11" transform="rotate(0.03 235.7 266.43)" >0</text>
<line x1="238.3" y1="250.51" x2="239.5" y2="250.51" stroke="#5e5e5e" stroke-width="0.6" />
<line x1="237.3" y1="238.52" x2="239.5" y2="238.52" stroke="#5e5e5e" stroke-width="0.7" />
<text x="235.7" y="242.45" font-size="8.7" text-anchor="end" fill="#141414" stroke="#141414" stroke-width="0.11" transform="rotate(0.03 235.7 242.45)" >50</text>
<line x1="238.3" y1="226.53" x2="239.5" y2="226.53" stroke="#5e5e5e" stroke-width="0.6" />
<line x1="237.3" y1="214.54" x2="239.5" y2="214.54" stroke="#5e5e5e" stroke-width="0.7" />
<text x="235.7" y="218.47" font-size="8.7" text-anchor="end" fill="#141414" stroke="#141414" stroke-width="0.11" transform="rotate(0.03 235.7 218.47)" >100</text>
<line x1="238.3" y1="202.55" x2="239.5" y2="202.55" stroke="#5e5e5e" stroke-width="0.6" />
<line x1="237.3" y1="190.56" x2="239.5" y2="190.56" stroke="#5e5e5e" stroke-width="0.7" />
<text x="235.7" y="194.49" font-size="8.7" text-anchor="end" fill="#141414" stroke="#141414" stroke-width="0.11" transform="rotate(0.03 235.7 194.49)" >150</text>
<line x1="238.3" y1="178.57" x2="239.5" y2="178.57" stroke="#5e5e5e" stroke-width="0.6" />
<line x1="237.3" y1="166.58" x2="239.5" y2="166.58" stroke="#5e5e5e" stroke-width="0.7" />
<text x="235.7" y="170.51" font-size="8.7" text-anchor="end" fill="#141414" stroke="#141414" stroke-width="0.11" transform="rotate(0.03 235.7 170.51)" >200</text>
<line x1="238.3" y1="154.59" x2="239.5" y2="154.59" stroke="#5e5e5e" stroke-width="0.6" />
<line x1="237.3" y1="142.6" x2="239.5" y2="142.6" stroke="#5e5e5e" stroke-width="0.7" />
<text x="235.7" y="146.53" font-size="8.7" text-anchor="end" fill="#141414" stroke="#141414" stroke-width="0.11" transform="rotate(0.03 235.7 146.53)" >250</text>
<line x1="384.3" y1="249.04" x2="386.5" y2="249.04" stroke="#5e5e5e" stroke-width="0.7" />
<text x="391.5" y="252.17" font-size="8.7" text-anchor="start" fill="#141414" stroke="#141414" stroke-width="0.11" transform="rotate(0.03 391.5 252.17)" >20</text>
<line x1="385.3" y1="235.81" x2="386.5" y2="235.81" stroke="#5e5e5e" stroke-width="0.6" />
<line x1="384.3" y1="222.58" x2="386.5" y2="222.58" stroke="#5e5e5e" stroke-width="0.7" />
<text x="391.5" y="225.71" font-size="8.7" text-anchor="start" fill="#141414" stroke="#141414" stroke-width="0.11" transform="rotate(0.03 391.5 225.71)" >40</text>
<line x1="385.3" y1="209.35" x2="386.5" y2="209.35" stroke="#5e5e5e" stroke-width="0.6" />
<line x1="384.3" y1="196.12" x2="386.5" y2="196.12" stroke="#5e5e5e" stroke-width="0.7" />
<text x="391.5" y="199.25" font-size="8.7" text-anchor="start" fill="#141414" stroke="#141414" stroke-width="0.11" transform="rotate(0.03 391.5 199.25)" >60</text>
<line x1="385.3" y1="182.89" x2="386.5" y2="182.89" stroke="#5e5e5e" stroke-width="0.6" />
<line x1="384.3" y1="169.66" x2="386.5" y2="169.66" stroke="#5e5e5e" stroke-width="0.7" />
<text x="391.5" y="172.79" font-size="8.7" text-anchor="start" fill="#141414" stroke="#141414" stroke-width="0.11" transform="rotate(0.03 391.5 172.79)" >80</text>
<line x1="385.3" y1="156.43" x2="386.5" y2="156.43" stroke="#5e5e5e" stroke-width="0.6" />
<line x1="384.3" y1="143.2" x2="386.5" y2="143.2" stroke="#5e5e5e" stroke-width="0.7" />
<text x="391.5" y="146.33" font-size="8.7" text-anchor="start" fill="#141414" stroke="#141414" stroke-width="0.11" transform="rotate(0.03 391.5 146.33)" >100</text>
<line x1="258.2" y1="262.4" x2="258.2" y2="264.6" stroke="#5e5e5e" stroke-width="0.7" />
<text x="259.1" y="274.33" font-size="8.7" text-anchor="middle" fill="#141414" stroke="#141414" stroke-width="0.11" transform="rotate(0.03 259.1 274.33)" >1</text>
<line x1="294.8" y1="262.4" x2="294.8" y2="264.6" stroke="#5e5e5e" stroke-width="0.7" />
<text x="295.7" y="274.33" font-size="8.7" text-anchor="middle" fill="#141414" stroke="#141414" stroke-width="0.11" transform="rotate(0.03 295.7 274.33)" >5</text>
<line x1="331.3" y1="262.4" x2="331.3" y2="264.6" stroke="#5e5e5e" stroke-width="0.7" />
<text x="332.2" y="274.33" font-size="8.7" text-anchor="middle" fill="#141414" stroke="#141414" stroke-width="0.11" transform="rotate(0.03 332.2 274.33)" >10</text>
<line x1="368.4" y1="262.4" x2="368.4" y2="264.6" stroke="#5e5e5e" stroke-width="0.7" />
<text x="369.3" y="274.33" font-size="8.7" text-anchor="middle" fill="#141414" stroke="#141414" stroke-width="0.11" transform="rotate(0.03 369.3 274.33)" >20</text>
<line x1="276.5" y1="262.4" x2="276.5" y2="263.6" stroke="#5e5e5e" stroke-width="0.6" />
<line x1="313" y1="262.4" x2="313" y2="263.6" stroke="#5e5e5e" stroke-width="0.6" />
<line x1="349.8" y1="262.4" x2="349.8" y2="263.6" stroke="#5e5e5e" stroke-width="0.6" />
<text x="318.3" y="288.17" font-size="10.2" text-anchor="middle" fill="#141414" stroke="#141414" stroke-width="0.13" transform="rotate(0.03 318.3 288.17)" >Mass loading (mg cm<tspan dy="-4.08" font-size="6.43" stroke-width="0.05">-2</tspan><tspan dy="4.08">)</tspan></text>
<text x="210.7" y="200.27" font-size="10.2" text-anchor="middle" fill="#141414" stroke="#141414" stroke-width="0.13" transform="rotate(-90 210.7 196.6)" >C<tspan dy="1.63" font-size="6.43">g</tspan><tspan dy="-1.63"> (F g</tspan><tspan dy="-4.08" font-size="6.43" stroke-width="0.05">-1</tspan><tspan dy="4.08">)</tspan></text>
<text x="409.5" y="199.87" font-size="10.2" text-anchor="middle" fill="#141414" stroke="#141414" stroke-width="0.13" transform="rotate(-90 409.5 196.2)" >Fraction (%)</text>
<path d="M258.2,239.4 C259.83,237.42 264.45,231.82 268,227.5 C271.55,223.18 275.75,218 279.5,213.5 C283.25,209 286.75,204.42 290.5,200.5 C294.25,196.58 298.08,193.22 302,190 C305.92,186.78 309.12,184.17 314,181.2 C318.88,178.23 325.63,174.9 331.3,172.2 C336.97,169.5 341.82,167.2 348,165 C354.18,162.8 365,160 368.4,159" fill="none" stroke="#4a4a4a" stroke-width="0.6" />
<path d="M258.2,235.9 C259.75,234 264.18,228.57 267.5,224.5 C270.82,220.43 274.52,215.8 278.1,211.5 C281.68,207.2 285.35,202.62 289,198.7 C292.65,194.78 296.17,191.32 300,188 C303.83,184.68 306.78,181.93 312,178.8 C317.22,175.67 325.3,171.9 331.3,169.2 C337.3,166.5 341.82,164.63 348,162.6 C354.18,160.57 365,157.93 368.4,157" fill="none" stroke="#e5363f" stroke-width="0.6" />
<path d="M258.2,172.3 C259.17,174 261.68,178.62 264,182.5 C266.32,186.38 269.18,190.77 272.1,195.6 C275.02,200.43 277.67,206.3 281.5,211.5 C285.33,216.7 290.35,222.12 295.1,226.8 C299.85,231.48 303.97,235.67 310,239.6 C316.03,243.53 324.63,247.77 331.3,250.4 C337.97,253.03 343.82,254.17 350,255.4 C356.18,256.63 365.33,257.4 368.4,257.8" fill="none" stroke="#3c3c3c" stroke-width="0.7" />
<path d="M258.2,150.1 C261.17,151.72 269.9,156.68 276,159.8 C282.1,162.92 289.13,166.33 294.8,168.8 C300.47,171.27 303.92,171.83 310,174.6 C316.08,177.37 324.63,181.25 331.3,185.4 C337.97,189.55 343.82,194.15 350,199.5 C356.18,204.85 365.33,214.5 368.4,217.5" fill="none" stroke="#e5363f" stroke-width="0.9" />
<rect x="256.75" y="238.35" width="2.9" height="2.9" fill="#fff" stroke="#3c3c3c" stroke-width="0.6" />
<rect x="293.35" y="188.35" width="2.9" height="2.9" fill="#fff" stroke="#3c3c3c" stroke-width="0.6" />
<rect x="329.85" y="169.55" width="2.9" height="2.9" fill="#fff" stroke="#3c3c3c" stroke-width="0.6" />
<rect x="366.95" y="157.45" width="2.9" height="2.9" fill="#fff" stroke="#3c3c3c" stroke-width="0.6" />
<circle cx="258.2" cy="235.9" r="1.65" fill="#fff" stroke="#e5363f" stroke-width="0.7"/>
<circle cx="294.8" cy="185.2" r="1.65" fill="#fff" stroke="#e5363f" stroke-width="0.7"/>
<circle cx="331.3" cy="168.2" r="1.65" fill="#fff" stroke="#e5363f" stroke-width="0.7"/>
<circle cx="368.4" cy="157" r="1.65" fill="#fff" stroke="#e5363f" stroke-width="0.7"/>
<rect x="256.7" y="170.8" width="3" height="3" fill="#3c3c3c" />
<rect x="293.3" y="232.7" width="3" height="3" fill="#3c3c3c" />
<rect x="329.8" y="251.4" width="3" height="3" fill="#3c3c3c" />
<rect x="366.9" y="256.2" width="3" height="3" fill="#3c3c3c" />
<circle cx="258.2" cy="150.1" r="1.9" fill="#e5363f"/>
<circle cx="294.8" cy="169.7" r="1.9" fill="#e5363f"/>
<circle cx="331.3" cy="181" r="1.9" fill="#e5363f"/>
<circle cx="368.4" cy="217.5" r="1.9" fill="#e5363f"/>
<ellipse cx="268.4" cy="175.8" rx="4.2" ry="26.6" fill="none" stroke="#111" stroke-width="0.75" stroke-dasharray="1.5 1.0"/>
<line x1="265" y1="198" x2="251" y2="198" stroke="#141414" stroke-width="0.8" />
<polygon points="249.4,198 252.6,196.6 252.6,199.4" fill="#111"/>
<ellipse cx="358.8" cy="161.9" rx="3.7" ry="7.8" fill="none" stroke="#111" stroke-width="0.75" stroke-dasharray="1.5 1.0"/>
<polyline points="358.8,154 358.8,150.7 374.4,150.7" fill="none" stroke="#141414" stroke-width="0.8" />
<polygon points="376.6,150.7 373.4,149.3 373.4,152.1" fill="#111"/>
<text x="293.4" y="163.63" font-size="8.7" text-anchor="start" fill="#e5363f" stroke="#e5363f" stroke-width="0.11" transform="rotate(0.03 293.4 163.63)" >83%</text>
<text x="337.2" y="182.43" font-size="8.7" text-anchor="start" fill="#e5363f" stroke="#e5363f" stroke-width="0.11" transform="rotate(0.03 337.2 182.43)" >72%</text>
<text x="365.8" y="210.43" font-size="8.7" text-anchor="start" fill="#e5363f" stroke="#e5363f" stroke-width="0.11" transform="rotate(0.03 365.8 210.43)" >40%</text>
<text x="297.2" y="227.93" font-size="8.7" text-anchor="start" fill="#333" stroke="#333" stroke-width="0.11" transform="rotate(0.03 297.2 227.93)" >31%</text>
<text x="330.4" y="246.63" font-size="8.7" text-anchor="start" fill="#333" stroke="#333" stroke-width="0.11" transform="rotate(0.03 330.4 246.63)" >10%</text>
<text x="362.8" y="250.93" font-size="8.7" text-anchor="start" fill="#333" stroke="#333" stroke-width="0.11" transform="rotate(0.03 362.8 250.93)" >6%</text>
<text x="259.9" y="257.33" font-size="8.7" text-anchor="start" fill="#333" stroke="#333" stroke-width="0.11" transform="rotate(0.03 259.9 257.33)" word-spacing="0.7">@ 1 A g<tspan dy="-3.48" font-size="5.48" stroke-width="0.05">-1</tspan></text>
<text x="423.4" y="134.08" font-size="10.5" text-anchor="start" fill="#111" stroke="#111" stroke-width="0.06" font-weight="bold" transform="rotate(0.03 423.4 134.08)" >e</text>
<line x1="458.6" y1="142.2" x2="458.6" y2="261.4" stroke="#5e5e5e" stroke-width="0.8" />
<line x1="458.6" y1="261" x2="605.5" y2="261" stroke="#5e5e5e" stroke-width="0.8" />
<line x1="456.4" y1="261" x2="458.6" y2="261" stroke="#5e5e5e" stroke-width="0.7" />
<text x="452.7" y="264.13" font-size="8.7" text-anchor="end" fill="#141414" stroke="#141414" stroke-width="0.11" transform="translate(452.7 0) scale(0.94 1) translate(-452.7 0) rotate(0.03 452.7 264.13)" >0</text>
<line x1="457.4" y1="249.16" x2="458.6" y2="249.16" stroke="#5e5e5e" stroke-width="0.6" />
<line x1="456.4" y1="237.32" x2="458.6" y2="237.32" stroke="#5e5e5e" stroke-width="0.7" />
<text x="452.7" y="240.45" font-size="8.7" text-anchor="end" fill="#141414" stroke="#141414" stroke-width="0.11" transform="translate(452.7 0) scale(0.94 1) translate(-452.7 0) rotate(0.03 452.7 240.45)" >50</text>
<line x1="457.4" y1="225.48" x2="458.6" y2="225.48" stroke="#5e5e5e" stroke-width="0.6" />
<line x1="456.4" y1="213.64" x2="458.6" y2="213.64" stroke="#5e5e5e" stroke-width="0.7" />
<text x="452.7" y="216.77" font-size="8.7" text-anchor="end" fill="#141414" stroke="#141414" stroke-width="0.11" transform="translate(452.7 0) scale(0.94 1) translate(-452.7 0) rotate(0.03 452.7 216.77)" >100</text>
<line x1="457.4" y1="201.8" x2="458.6" y2="201.8" stroke="#5e5e5e" stroke-width="0.6" />
<line x1="456.4" y1="189.96" x2="458.6" y2="189.96" stroke="#5e5e5e" stroke-width="0.7" />
<text x="452.7" y="193.09" font-size="8.7" text-anchor="end" fill="#141414" stroke="#141414" stroke-width="0.11" transform="translate(452.7 0) scale(0.94 1) translate(-452.7 0) rotate(0.03 452.7 193.09)" >150</text>
<line x1="457.4" y1="178.12" x2="458.6" y2="178.12" stroke="#5e5e5e" stroke-width="0.6" />
<line x1="456.4" y1="166.28" x2="458.6" y2="166.28" stroke="#5e5e5e" stroke-width="0.7" />
<text x="452.7" y="169.41" font-size="8.7" text-anchor="end" fill="#141414" stroke="#141414" stroke-width="0.11" transform="translate(452.7 0) scale(0.94 1) translate(-452.7 0) rotate(0.03 452.7 169.41)" >200</text>
<line x1="457.4" y1="154.44" x2="458.6" y2="154.44" stroke="#5e5e5e" stroke-width="0.6" />
<line x1="456.4" y1="142.6" x2="458.6" y2="142.6" stroke="#5e5e5e" stroke-width="0.7" />
<text x="452.7" y="145.73" font-size="8.7" text-anchor="end" fill="#141414" stroke="#141414" stroke-width="0.11" transform="translate(452.7 0) scale(0.94 1) translate(-452.7 0) rotate(0.03 452.7 145.73)" >250</text>
<line x1="458.7" y1="261" x2="458.7" y2="263.2" stroke="#5e5e5e" stroke-width="0.7" />
<text x="458.7" y="273.61" font-size="9.2" text-anchor="middle" fill="#141414" stroke="#141414" stroke-width="0.12" transform="translate(458.7 0) scale(0.88 1) translate(-458.7 0) rotate(0.03 458.7 273.61)" >0</text>
<line x1="469.99" y1="261" x2="469.99" y2="262.2" stroke="#5e5e5e" stroke-width="0.6" />
<line x1="481.28" y1="261" x2="481.28" y2="263.2" stroke="#5e5e5e" stroke-width="0.7" />
<text x="481.28" y="273.61" font-size="9.2" text-anchor="middle" fill="#141414" stroke="#141414" stroke-width="0.12" transform="translate(481.28 0) scale(0.88 1) translate(-481.28 0) rotate(0.03 481.28 273.61)" >50</text>
<line x1="492.58" y1="261" x2="492.58" y2="262.2" stroke="#5e5e5e" stroke-width="0.6" />
<line x1="503.87" y1="261" x2="503.87" y2="263.2" stroke="#5e5e5e" stroke-width="0.7" />
<text x="503.87" y="273.61" font-size="9.2" text-anchor="middle" fill="#141414" stroke="#141414" stroke-width="0.12" transform="translate(503.87 0) scale(0.88 1) translate(-503.87 0) rotate(0.03 503.87 273.61)" >100</text>
<line x1="515.16" y1="261" x2="515.16" y2="262.2" stroke="#5e5e5e" stroke-width="0.6" />
<line x1="526.45" y1="261" x2="526.45" y2="263.2" stroke="#5e5e5e" stroke-width="0.7" />
<text x="526.45" y="273.61" font-size="9.2" text-anchor="middle" fill="#141414" stroke="#141414" stroke-width="0.12" transform="translate(526.45 0) scale(0.88 1) translate(-526.45 0) rotate(0.03 526.45 273.61)" >150</text>
<line x1="537.75" y1="261" x2="537.75" y2="262.2" stroke="#5e5e5e" stroke-width="0.6" />
<line x1="549.04" y1="261" x2="549.04" y2="263.2" stroke="#5e5e5e" stroke-width="0.7" />
<text x="549.04" y="273.61" font-size="9.2" text-anchor="middle" fill="#141414" stroke="#141414" stroke-width="0.12" transform="translate(549.04 0) scale(0.88 1) translate(-549.04 0) rotate(0.03 549.04 273.61)" >200</text>
<line x1="560.33" y1="261" x2="560.33" y2="262.2" stroke="#5e5e5e" stroke-width="0.6" />
<line x1="571.62" y1="261" x2="571.62" y2="263.2" stroke="#5e5e5e" stroke-width="0.7" />
<text x="571.62" y="273.61" font-size="9.2" text-anchor="middle" fill="#141414" stroke="#141414" stroke-width="0.12" transform="translate(571.62 0) scale(0.88 1) translate(-571.62 0) rotate(0.03 571.62 273.61)" >250</text>
<line x1="582.92" y1="261" x2="582.92" y2="262.2" stroke="#5e5e5e" stroke-width="0.6" />
<line x1="594.21" y1="261" x2="594.21" y2="263.2" stroke="#5e5e5e" stroke-width="0.7" />
<text x="594.21" y="273.61" font-size="9.2" text-anchor="middle" fill="#141414" stroke="#141414" stroke-width="0.12" transform="translate(594.21 0) scale(0.88 1) translate(-594.21 0) rotate(0.03 594.21 273.61)" >300</text>
<line x1="605.5" y1="261" x2="605.5" y2="262.2" stroke="#5e5e5e" stroke-width="0.6" />
<text x="541" y="288.27" font-size="10.2" text-anchor="middle" fill="#141414" stroke="#141414" stroke-width="0.13" transform="rotate(0.03 541 288.27)" >C<tspan dy="1.63" font-size="6.43" font-style="italic">g</tspan><tspan dy="-1.63"> (F g</tspan><tspan dy="-4.08" font-size="6.43" stroke-width="0.05">-1</tspan><tspan dy="4.08">)</tspan></text>
<text x="427.7" y="207.47" font-size="10.2" text-anchor="middle" fill="#141414" stroke="#141414" stroke-width="0.13" transform="rotate(-90 427.7 203.8)" >C<tspan dy="1.63" font-size="6.43" font-style="italic">v</tspan><tspan dy="-1.63"> (F cm</tspan><tspan dy="-4.08" font-size="6.43" stroke-width="0.05">-3</tspan><tspan dy="4.08">)</tspan></text>
<line x1="458.7" y1="261" x2="532.33" y2="144.97" stroke="#b4b4b4" stroke-width="0.65" stroke-dasharray="2.2 1.6" opacity="0.9"/>
<line x1="458.7" y1="261" x2="571.62" y2="142.6" stroke="#b4b4b4" stroke-width="0.65" stroke-dasharray="2.2 1.6" opacity="0.9"/>
<line x1="458.7" y1="261" x2="594.21" y2="189.96" stroke="#b4b4b4" stroke-width="0.65" stroke-dasharray="2.2 1.6" opacity="0.9"/>
<line x1="458.7" y1="261" x2="594.21" y2="225.48" stroke="#b4b4b4" stroke-width="0.65" stroke-dasharray="2.2 1.6" opacity="0.9"/>
<polygon points="464.8,120 465.65,122.44 468.22,122.49 466.17,124.04 466.92,126.51 464.8,125.04 462.68,126.51 463.43,124.04 461.38,122.49 463.95,122.44" fill="#3a3a3a"/>
<text x="474.2" y="126.33" font-size="7.3" text-anchor="start" fill="#000" stroke="#000" stroke-width="0.09" transform="translate(474.2 0) scale(0.89 1) translate(-474.2 0) rotate(0.03 474.2 126.33)" >monolith</text>
<polygon points="464.8,127.2 465.65,129.64 468.22,129.69 466.17,131.24 466.92,133.71 464.8,132.24 462.68,133.71 463.43,131.24 461.38,129.69 463.95,129.64" fill="#e8323c"/>
<text x="474.2" y="133.53" font-size="7.3" text-anchor="start" fill="#000" stroke="#000" stroke-width="0.09" transform="translate(474.2 0) scale(0.89 1) translate(-474.2 0) rotate(0.03 474.2 133.53)" >P100</text>
<polygon points="464.8,134.4 465.65,136.84 468.22,136.89 466.17,138.44 466.92,140.91 464.8,139.44 462.68,140.91 463.43,138.44 461.38,136.89 463.95,136.84" fill="#2f6fc4"/>
<text x="474.2" y="140.73" font-size="7.3" text-anchor="start" fill="#000" stroke="#000" stroke-width="0.09" transform="translate(474.2 0) scale(0.89 1) translate(-474.2 0) rotate(0.03 474.2 140.73)" >P200</text>
<polygon points="464.8,141.6 465.65,144.04 468.22,144.09 466.17,145.64 466.92,148.11 464.8,146.64 462.68,148.11 463.43,145.64 461.38,144.09 463.95,144.04" fill="#2aa56c"/>
<text x="474.2" y="147.93" font-size="7.3" text-anchor="start" fill="#000" stroke="#000" stroke-width="0.09" transform="translate(474.2 0) scale(0.89 1) translate(-474.2 0) rotate(0.03 474.2 147.93)" >P300</text>
<polygon points="464.8,148.8 465.65,151.24 468.22,151.29 466.17,152.84 466.92,155.31 464.8,153.84 462.68,155.31 463.43,152.84 461.38,151.29 463.95,151.24" fill="#a070cc"/>
<text x="474.2" y="155.13" font-size="7.3" text-anchor="start" fill="#000" stroke="#000" stroke-width="0.09" transform="translate(474.2 0) scale(0.89 1) translate(-474.2 0) rotate(0.03 474.2 155.13)" >P400</text>
<polygon points="464.8,156 465.65,158.44 468.22,158.49 466.17,160.04 466.92,162.51 464.8,161.04 462.68,162.51 463.43,160.04 461.38,158.49 463.95,158.44" fill="#d8a228"/>
<text x="474.2" y="162.33" font-size="7.3" text-anchor="start" fill="#000" stroke="#000" stroke-width="0.09" transform="translate(474.2 0) scale(0.89 1) translate(-474.2 0) rotate(0.03 474.2 162.33)" >P500</text>
<text x="525" y="141.03" font-size="7.3" text-anchor="start" fill="#5a5a5a" stroke="#5a5a5a" stroke-width="0.09" transform="translate(525 0) scale(0.89 1) translate(-525 0) rotate(0.03 525 141.03)" >1.5 g cm<tspan dy="-2.92" font-size="4.6" stroke-width="0.05">-3</tspan></text>
<text x="559" y="141.03" font-size="7.3" text-anchor="start" fill="#5a5a5a" stroke="#5a5a5a" stroke-width="0.09" transform="translate(559 0) scale(0.89 1) translate(-559 0) rotate(0.03 559 141.03)" >1.0 g cm<tspan dy="-2.92" font-size="4.6" stroke-width="0.05">-3</tspan></text>
<text x="590.4" y="200.43" font-size="7.3" text-anchor="start" fill="#5a5a5a" stroke="#5a5a5a" stroke-width="0.09" transform="translate(590.4 0) scale(0.89 1) translate(-590.4 0) rotate(0.03 590.4 200.43)" >0.5 g cm<tspan dy="-2.92" font-size="4.6" stroke-width="0.05">-3</tspan></text>
<text x="595" y="227.13" font-size="7.3" text-anchor="start" fill="#5a5a5a" stroke="#5a5a5a" stroke-width="0.09" transform="translate(595 0) scale(0.89 1) translate(-595 0) rotate(0.03 595 227.13)" >0.25 g cm<tspan dy="-2.92" font-size="4.6" stroke-width="0.05">-3</tspan></text>
<text x="533" y="158.43" font-size="7.3" text-anchor="start" fill="#62b84a" stroke="#62b84a" stroke-width="0.09" transform="translate(533 0) scale(0.89 1) translate(-533 0) rotate(0.03 533 158.43)" >Laminated graphene</text>
<circle cx="556.6" cy="164.4" r="1.6" fill="#fff" stroke="#62b84a" stroke-width="0.7"/>
<path d="M555,164.4 A1.6,1.6 0 0 0 558.2,164.4 Z" fill="#62b84a"/>
<text x="556.6" y="172.63" font-size="7.3" text-anchor="middle" fill="#62b84a" stroke="#62b84a" stroke-width="0.09" transform="translate(556.6 0) scale(0.89 1) translate(-556.6 0) rotate(0.03 556.6 172.63)" >[2]</text>
<text x="523.4" y="164.43" font-size="7.3" text-anchor="start" fill="#444" stroke="#444" stroke-width="0.09" transform="translate(523.4 0) scale(0.89 1) translate(-523.4 0) rotate(0.03 523.4 164.43)" >[1]</text>
<rect x="532.5" y="160.5" width="3" height="3" fill="#fff" stroke="#444" stroke-width="0.7" />
<rect x="532.5" y="161.75" width="3" height="1.75" fill="#444" />
<text x="461.9" y="172.43" font-size="7.3" text-anchor="start" fill="#555" stroke="#555" stroke-width="0.09" transform="translate(461.9 0) scale(0.89 1) translate(-461.9 0) rotate(0.03 461.9 172.43)" >Liquid mediated graphene</text>
<rect x="591.5" y="159.3" width="3" height="3" fill="#fff" stroke="#777" stroke-width="0.7" />
<rect x="591.5" y="160.55" width="3" height="1.75" fill="#777" />
<text x="595.8" y="163.53" font-size="7.3" text-anchor="start" fill="#777" stroke="#777" stroke-width="0.09" transform="translate(595.8 0) scale(0.89 1) translate(-595.8 0) rotate(0.03 595.8 163.53)" >[16]</text>
<text x="576.7" y="169.93" font-size="7.3" text-anchor="start" fill="#777" stroke="#777" stroke-width="0.09" transform="translate(576.7 0) scale(0.89 1) translate(-576.7 0) rotate(0.03 576.7 169.93)" >Holey graphene</text>
<text x="526.6" y="179.93" font-size="7.3" text-anchor="start" fill="#3b78c8" stroke="#3b78c8" stroke-width="0.09" transform="translate(526.6 0) scale(0.89 1) translate(-526.6 0) rotate(0.03 526.6 179.93)" >IM-rGO</text>
<text x="559.4" y="179.93" font-size="7.3" text-anchor="end" fill="#3b78c8" stroke="#3b78c8" stroke-width="0.09" transform="translate(559.4 0) scale(0.89 1) translate(-559.4 0) rotate(0.03 559.4 179.93)" >[44]</text>
<text x="506.2" y="187.33" font-size="7.3" text-anchor="start" fill="#444" stroke="#444" stroke-width="0.09" transform="translate(506.2 0) scale(0.89 1) translate(-506.2 0) rotate(0.03 506.2 187.33)" >UHFG [42]</text>
<circle cx="541.2" cy="183.9" r="1.6" fill="#fff" stroke="#444" stroke-width="0.7"/>
<path d="M539.6,183.9 A1.6,1.6 0 0 0 542.8,183.9 Z" fill="#444"/>
<text x="583.3" y="179.4" font-size="8.6" text-anchor="start" fill="#d8202c" stroke="#d8202c" stroke-width="0.11" transform="rotate(0.03 583.3 179.4)" >This work</text>
<line x1="581.2" y1="176.4" x2="574.6" y2="179.6" stroke="#d8202c" stroke-width="0.8" />
<polygon points="572.4,180.8 575.4,177.4 576.8,180.4" fill="#d8202c"/>
<ellipse cx="558.4" cy="186.2" rx="20.8" ry="7.6" fill="#f7c6c6" transform="rotate(-15 558.4 186.2)"/>
<rect x="555.8" y="180" width="2.4" height="2.4" fill="#fff" stroke="#3b78c8" stroke-width="0.7" />
<rect x="555.8" y="180.95" width="2.4" height="1.45" fill="#3b78c8" />
<polygon points="543.7,187.5 544.45,189.66 546.74,189.71 544.92,191.1 545.58,193.29 543.7,191.98 541.82,193.29 542.48,191.1 540.66,189.71 542.95,189.66" fill="#3a3a3a"/>
<polygon points="556.2,184 556.91,186.03 559.05,186.07 557.34,187.37 557.96,189.43 556.2,188.2 554.44,189.43 555.06,187.37 553.35,186.07 555.49,186.03" fill="#d8a228"/>
<polygon points="560.3,181.3 560.98,183.26 563.06,183.3 561.4,184.56 562,186.55 560.3,185.36 558.6,186.55 559.2,184.56 557.54,183.3 559.62,183.26" fill="#a070cc"/>
<polygon points="557.6,180 558.26,181.89 560.26,181.93 558.67,183.15 559.25,185.07 557.6,183.92 555.95,185.07 556.53,183.15 554.94,181.93 556.94,181.89" fill="#2f6fc4"/>
<polygon points="563.6,179.4 564.31,181.43 566.45,181.47 564.74,182.77 565.36,184.83 563.6,183.6 561.84,184.83 562.46,182.77 560.75,181.47 562.89,181.43" fill="#2aa56c"/>
<polygon points="565.3,182.7 566.03,184.8 568.25,184.84 566.48,186.18 567.12,188.31 565.3,187.04 563.48,188.31 564.12,186.18 562.35,184.84 564.57,184.8" fill="#e8323c"/>
<text x="479.8" y="203.23" font-size="7.3" text-anchor="start" fill="#c9a030" stroke="#c9a030" stroke-width="0.09" transform="translate(479.8 0) scale(0.89 1) translate(-479.8 0) rotate(0.03 479.8 203.23)" >Compressed</text>
<text x="485.7" y="211.33" font-size="7.3" text-anchor="start" fill="#c9a030" stroke="#c9a030" stroke-width="0.09" transform="translate(485.7 0) scale(0.89 1) translate(-485.7 0) rotate(0.03 485.7 211.33)" >a-MEGO</text>
<text x="522.2" y="211.04" font-size="6.5" text-anchor="end" fill="#c9a030" stroke="#c9a030" stroke-width="0.08" transform="translate(522.2 0) scale(0.89 1) translate(-522.2 0) rotate(0.03 522.2 211.04)" >[39]</text>
<rect x="523.8" y="207.4" width="2.6" height="2.6" fill="#fff" stroke="#c9a030" stroke-width="0.7" />
<rect x="523.8" y="208.45" width="2.6" height="1.55" fill="#c9a030" />
<text x="466" y="220.33" font-size="7.3" text-anchor="start" fill="#a8453a" stroke="#a8453a" stroke-width="0.09" transform="translate(466 0) scale(0.89 1) translate(-466 0) rotate(0.03 466 220.33)" >Graphene aerogel</text>
<rect x="510" y="222.7" width="2.6" height="2.6" fill="#fff" stroke="#9c2f2f" stroke-width="0.7" />
<rect x="510" y="223.75" width="2.6" height="1.55" fill="#9c2f2f" />
<text x="511.7" y="231.84" font-size="6.5" text-anchor="middle" fill="#9c2f2f" stroke="#9c2f2f" stroke-width="0.08" transform="translate(511.7 0) scale(0.89 1) translate(-511.7 0) rotate(0.03 511.7 231.84)" >[45]</text>
<text x="484.7" y="239.83" font-size="7.3" text-anchor="start" fill="#8c9a32" stroke="#8c9a32" stroke-width="0.09" transform="translate(484.7 0) scale(0.89 1) translate(-484.7 0) rotate(0.03 484.7 239.83)" >CMG</text>
<circle cx="503.2" cy="237.2" r="1.45" fill="#fff" stroke="#8c9a32" stroke-width="0.7"/>
<path d="M501.75,237.2 A1.45,1.45 0 0 0 504.65,237.2 Z" fill="#8c9a32"/>
<text x="503.4" y="245.64" font-size="6.5" text-anchor="middle" fill="#8c9a32" stroke="#8c9a32" stroke-width="0.08" transform="translate(503.4 0) scale(0.89 1) translate(-503.4 0) rotate(0.03 503.4 245.64)" >[40]</text>
<circle cx="527.9" cy="239.4" r="1.6" fill="#fff" stroke="#7a3040" stroke-width="0.7"/>
<path d="M526.3,239.4 A1.6,1.6 0 0 0 529.5,239.4 Z" fill="#7a3040"/>
<text x="528.3" y="247.74" font-size="6.5" text-anchor="middle" fill="#7a4a58" stroke="#7a4a58" stroke-width="0.08" transform="translate(528.3 0) scale(0.89 1) translate(-528.3 0) rotate(0.03 528.3 247.74)" >[36]</text>
<text x="470.4" y="255.83" font-size="7.3" text-anchor="start" fill="#8a4258" stroke="#8a4258" stroke-width="0.09" transform="translate(470.4 0) scale(0.89 1) translate(-470.4 0) rotate(0.03 470.4 255.83)" >Mesoporous graphene</text>
<rect x="535.15" y="211.05" width="2.5" height="2.5" fill="#fff" stroke="#9a7acc" stroke-width="0.7" />
<rect x="535.15" y="212.05" width="2.5" height="1.5" fill="#9a7acc" />
<text x="536.4" y="220.74" font-size="6.5" text-anchor="middle" fill="#9a7acc" stroke="#9a7acc" stroke-width="0.08" transform="translate(536.4 0) scale(0.89 1) translate(-536.4 0) rotate(0.03 536.4 220.74)" >[38]</text>
<text x="541.1" y="212.83" font-size="7.3" text-anchor="start" fill="#9a7acc" stroke="#9a7acc" stroke-width="0.09" transform="translate(541.1 0) scale(0.89 1) translate(-541.1 0) rotate(0.03 541.1 212.83)" >Activated graphene</text>
<rect x="561.7" y="216.4" width="2.6" height="2.6" fill="#fff" stroke="#2fb0c8" stroke-width="0.7" />
<rect x="561.7" y="217.45" width="2.6" height="1.55" fill="#2fb0c8" />
<text x="568.3" y="220.33" font-size="7.3" text-anchor="start" fill="#2fb0c8" stroke="#2fb0c8" stroke-width="0.09" transform="translate(568.3 0) scale(0.89 1) translate(-568.3 0) rotate(0.03 568.3 220.33)" >3D graphene</text>
<text x="563.4" y="225.54" font-size="6.5" text-anchor="middle" fill="#2fb0c8" stroke="#2fb0c8" stroke-width="0.08" transform="translate(563.4 0) scale(0.89 1) translate(-563.4 0) rotate(0.03 563.4 225.54)" >[35]</text>
<rect x="531.35" y="231.75" width="2.5" height="2.5" fill="#fff" stroke="#d83a3a" stroke-width="0.7" />
<rect x="531.35" y="232.75" width="2.5" height="1.5" fill="#d83a3a" />
<text x="535.7" y="235.34" font-size="6.5" text-anchor="start" fill="#d83a3a" stroke="#d83a3a" stroke-width="0.08" transform="translate(535.7 0) scale(0.89 1) translate(-535.7 0) rotate(0.03 535.7 235.34)" >[15]</text>
<text x="548" y="235.63" font-size="7.3" text-anchor="start" fill="#d83a3a" stroke="#d83a3a" stroke-width="0.09" transform="translate(548 0) scale(0.89 1) translate(-548 0) rotate(0.03 548 235.63)" >Porous graphene</text>
<text x="543.4" y="250.03" font-size="7.3" text-anchor="start" fill="#22a060" stroke="#22a060" stroke-width="0.09" transform="translate(543.4 0) scale(0.89 1) translate(-543.4 0) rotate(0.03 543.4 250.03)" >Laser scribed graphene</text>
<rect x="582.45" y="253.95" width="2.5" height="2.5" fill="#fff" stroke="#22a060" stroke-width="0.7" />
<rect x="582.45" y="254.95" width="2.5" height="1.5" fill="#22a060" />
<text x="588.2" y="257.54" font-size="6.5" text-anchor="start" fill="#22a060" stroke="#22a060" stroke-width="0.08" transform="translate(588.2 0) scale(0.89 1) translate(-588.2 0) rotate(0.03 588.2 257.54)" >[37]</text>
<text x="22.4" y="302.38" font-size="10.5" text-anchor="start" fill="#111" stroke="#111" stroke-width="0.06" font-weight="bold" transform="rotate(0.03 22.4 302.38)" >f</text>
<rect x="54.3" y="336.68" width="14.3" height="97.02" fill="#c1c1c1" stroke="#808080" stroke-width="0.75" />
<rect x="68.6" y="329.42" width="15" height="104.28" fill="#93b6e2" stroke="#73849f" stroke-width="0.75" />
<text x="61.25" y="334.71" font-size="8.7" text-anchor="middle" fill="#141414" stroke="#141414" stroke-width="0.11" transform="rotate(0.03 61.25 334.71)" >147</text>
<text x="75.95" y="327.45" font-size="8.7" text-anchor="middle" fill="#141414" stroke="#141414" stroke-width="0.11" transform="rotate(0.03 75.95 327.45)" >158</text>
<rect x="91.1" y="403.34" width="14.3" height="30.36" fill="#c1c1c1" stroke="#808080" stroke-width="0.75" />
<rect x="105.4" y="347.24" width="15" height="86.46" fill="#93b6e2" stroke="#73849f" stroke-width="0.75" />
<text x="98.05" y="401.37" font-size="8.7" text-anchor="middle" fill="#141414" stroke="#141414" stroke-width="0.11" transform="rotate(0.03 98.05 401.37)" >46</text>
<text x="112.75" y="345.27" font-size="8.7" text-anchor="middle" fill="#141414" stroke="#141414" stroke-width="0.11" transform="rotate(0.03 112.75 345.27)" >131</text>
<rect x="127.7" y="423.8" width="14.3" height="9.9" fill="#c1c1c1" stroke="#808080" stroke-width="0.75" />
<rect x="142" y="358.46" width="15" height="75.24" fill="#93b6e2" stroke="#73849f" stroke-width="0.75" />
<text x="134.65" y="421.83" font-size="8.7" text-anchor="middle" fill="#141414" stroke="#141414" stroke-width="0.11" transform="rotate(0.03 134.65 421.83)" >15</text>
<text x="149.35" y="356.49" font-size="8.7" text-anchor="middle" fill="#141414" stroke="#141414" stroke-width="0.11" transform="rotate(0.03 149.35 356.49)" >114</text>
<rect x="164.7" y="429.08" width="14.3" height="4.62" fill="#c1c1c1" stroke="#808080" stroke-width="0.75" />
<rect x="179" y="392.12" width="15" height="41.58" fill="#93b6e2" stroke="#73849f" stroke-width="0.75" />
<text x="171.65" y="427.11" font-size="8.7" text-anchor="middle" fill="#141414" stroke="#141414" stroke-width="0.11" transform="rotate(0.03 171.65 427.11)" >7</text>
<text x="186.35" y="390.15" font-size="8.7" text-anchor="middle" fill="#141414" stroke="#141414" stroke-width="0.11" transform="rotate(0.03 186.35 390.15)" >63</text>
<line x1="50.4" y1="314.5" x2="50.4" y2="434.1" stroke="#5e5e5e" stroke-width="0.8" />
<line x1="50.4" y1="433.7" x2="197.7" y2="433.7" stroke="#5e5e5e" stroke-width="0.8" />
<line x1="48.2" y1="433.7" x2="50.4" y2="433.7" stroke="#5e5e5e" stroke-width="0.7" />
<text x="46.3" y="436.83" font-size="8.7" text-anchor="end" fill="#141414" stroke="#141414" stroke-width="0.11" transform="rotate(0.03 46.3 436.83)" >0</text>
<line x1="49.2" y1="423.8" x2="50.4" y2="423.8" stroke="#5e5e5e" stroke-width="0.6" />
<line x1="48.2" y1="413.9" x2="50.4" y2="413.9" stroke="#5e5e5e" stroke-width="0.7" />
<text x="46.3" y="417.03" font-size="8.7" text-anchor="end" fill="#141414" stroke="#141414" stroke-width="0.11" transform="rotate(0.03 46.3 417.03)" >30</text>
<line x1="49.2" y1="404" x2="50.4" y2="404" stroke="#5e5e5e" stroke-width="0.6" />
<line x1="48.2" y1="394.1" x2="50.4" y2="394.1" stroke="#5e5e5e" stroke-width="0.7" />
<text x="46.3" y="397.23" font-size="8.7" text-anchor="end" fill="#141414" stroke="#141414" stroke-width="0.11" transform="rotate(0.03 46.3 397.23)" >60</text>
<line x1="49.2" y1="384.2" x2="50.4" y2="384.2" stroke="#5e5e5e" stroke-width="0.6" />
<line x1="48.2" y1="374.3" x2="50.4" y2="374.3" stroke="#5e5e5e" stroke-width="0.7" />
<text x="46.3" y="377.43" font-size="8.7" text-anchor="end" fill="#141414" stroke="#141414" stroke-width="0.11" transform="rotate(0.03 46.3 377.43)" >90</text>
<line x1="49.2" y1="364.4" x2="50.4" y2="364.4" stroke="#5e5e5e" stroke-width="0.6" />
<line x1="48.2" y1="354.5" x2="50.4" y2="354.5" stroke="#5e5e5e" stroke-width="0.7" />
<text x="46.3" y="357.63" font-size="8.7" text-anchor="end" fill="#141414" stroke="#141414" stroke-width="0.11" transform="rotate(0.03 46.3 357.63)" >120</text>
<line x1="49.2" y1="344.6" x2="50.4" y2="344.6" stroke="#5e5e5e" stroke-width="0.6" />
<line x1="48.2" y1="334.7" x2="50.4" y2="334.7" stroke="#5e5e5e" stroke-width="0.7" />
<text x="46.3" y="337.83" font-size="8.7" text-anchor="end" fill="#141414" stroke="#141414" stroke-width="0.11" transform="rotate(0.03 46.3 337.83)" >150</text>
<line x1="49.2" y1="324.8" x2="50.4" y2="324.8" stroke="#5e5e5e" stroke-width="0.6" />
<line x1="48.2" y1="314.9" x2="50.4" y2="314.9" stroke="#5e5e5e" stroke-width="0.7" />
<text x="46.3" y="318.03" font-size="8.7" text-anchor="end" fill="#141414" stroke="#141414" stroke-width="0.11" transform="rotate(0.03 46.3 318.03)" >180</text>
<line x1="68.6" y1="433.7" x2="68.6" y2="435.9" stroke="#5e5e5e" stroke-width="0.7" />
<text x="69.4" y="445.53" font-size="8.7" text-anchor="middle" fill="#141414" stroke="#141414" stroke-width="0.11" transform="rotate(0.03 69.4 445.53)" >1</text>
<line x1="87" y1="433.7" x2="87" y2="434.9" stroke="#5e5e5e" stroke-width="0.6" />
<line x1="105.4" y1="433.7" x2="105.4" y2="435.9" stroke="#5e5e5e" stroke-width="0.7" />
<text x="106.2" y="445.53" font-size="8.7" text-anchor="middle" fill="#141414" stroke="#141414" stroke-width="0.11" transform="rotate(0.03 106.2 445.53)" >5</text>
<line x1="123.8" y1="433.7" x2="123.8" y2="434.9" stroke="#5e5e5e" stroke-width="0.6" />
<line x1="142" y1="433.7" x2="142" y2="435.9" stroke="#5e5e5e" stroke-width="0.7" />
<text x="142.8" y="445.53" font-size="8.7" text-anchor="middle" fill="#141414" stroke="#141414" stroke-width="0.11" transform="rotate(0.03 142.8 445.53)" >10</text>
<line x1="160.4" y1="433.7" x2="160.4" y2="434.9" stroke="#5e5e5e" stroke-width="0.6" />
<line x1="179" y1="433.7" x2="179" y2="435.9" stroke="#5e5e5e" stroke-width="0.7" />
<text x="179.8" y="445.53" font-size="8.7" text-anchor="middle" fill="#141414" stroke="#141414" stroke-width="0.11" transform="rotate(0.03 179.8 445.53)" >20</text>
<line x1="197.4" y1="433.7" x2="197.4" y2="434.9" stroke="#5e5e5e" stroke-width="0.6" />
<text x="60.5" y="313.29" font-size="8.85" text-anchor="start" fill="#141414" stroke="#141414" stroke-width="0.12" transform="rotate(0.03 60.5 313.29)" >Based on material</text>
<rect x="158.5" y="312" width="13.9" height="6.8" fill="#c1c1c1" stroke="#808080" stroke-width="0.75" />
<rect x="158.5" y="322.6" width="13.9" height="6.8" fill="#93b6e2" stroke="#73849f" stroke-width="0.75" />
<text x="180.4" y="318.33" font-size="8.7" text-anchor="start" fill="#141414" stroke="#141414" stroke-width="0.11" transform="rotate(0.03 180.4 318.33)" >Monolith</text>
<text x="180.4" y="329.43" font-size="8.7" text-anchor="start" fill="#141414" stroke="#141414" stroke-width="0.11" transform="rotate(0.03 180.4 329.43)" >P100</text>
<text x="124.8" y="460.07" font-size="10.2" text-anchor="middle" fill="#141414" stroke="#141414" stroke-width="0.13" transform="rotate(0.03 124.8 460.07)" >Mass loading (mg cm<tspan dy="-4.08" font-size="6.43" stroke-width="0.05">-2</tspan><tspan dy="4.08">)</tspan></text>
<text x="19.9" y="373.87" font-size="10.2" text-anchor="middle" fill="#141414" stroke="#141414" stroke-width="0.13" transform="rotate(-90 19.9 370.2)" >C<tspan dy="1.63" font-size="6.43">vol</tspan><tspan dy="-1.63"> (F cm</tspan><tspan dy="-4.08" font-size="6.43" stroke-width="0.05">-3</tspan><tspan dy="4.08">)</tspan></text>
<text x="219.2" y="302.98" font-size="10.5" text-anchor="start" fill="#111" stroke="#111" stroke-width="0.06" font-weight="bold" transform="rotate(0.03 219.2 302.98)" >g</text>
<rect x="260.4" y="386.18" width="14.3" height="47.52" fill="#c1c1c1" stroke="#808080" stroke-width="0.75" />
<rect x="274.7" y="377.86" width="15" height="55.84" fill="#93b6e2" stroke="#73849f" stroke-width="0.75" />
<text x="267.35" y="384.21" font-size="8.7" text-anchor="middle" fill="#141414" stroke="#141414" stroke-width="0.11" transform="rotate(0.03 267.35 384.21)" >40</text>
<text x="282.05" y="375.9" font-size="8.7" text-anchor="middle" fill="#141414" stroke="#141414" stroke-width="0.11" transform="rotate(0.03 282.05 375.9)" >47</text>
<rect x="296.9" y="398.06" width="14.3" height="35.64" fill="#c1c1c1" stroke="#808080" stroke-width="0.75" />
<rect x="311.2" y="327.97" width="15" height="105.73" fill="#93b6e2" stroke="#73849f" stroke-width="0.75" />
<text x="303.85" y="396.09" font-size="8.7" text-anchor="middle" fill="#141414" stroke="#141414" stroke-width="0.11" transform="rotate(0.03 303.85 396.09)" >30</text>
<text x="318.55" y="326" font-size="8.7" text-anchor="middle" fill="#141414" stroke="#141414" stroke-width="0.11" transform="rotate(0.03 318.55 326)" >89</text>
<rect x="333.8" y="419.44" width="14.3" height="14.26" fill="#c1c1c1" stroke="#808080" stroke-width="0.75" />
<rect x="348.1" y="324.4" width="15" height="109.3" fill="#93b6e2" stroke="#73849f" stroke-width="0.75" />
<text x="340.75" y="417.48" font-size="8.7" text-anchor="middle" fill="#141414" stroke="#141414" stroke-width="0.11" transform="rotate(0.03 340.75 417.48)" >12</text>
<text x="355.45" y="322.44" font-size="8.7" text-anchor="middle" fill="#141414" stroke="#141414" stroke-width="0.11" transform="rotate(0.03 355.45 322.44)" >92</text>
<rect x="370.6" y="426.57" width="14.3" height="7.13" fill="#c1c1c1" stroke="#808080" stroke-width="0.75" />
<rect x="384.9" y="367.17" width="15" height="66.53" fill="#93b6e2" stroke="#73849f" stroke-width="0.75" />
<text x="377.55" y="424.6" font-size="8.7" text-anchor="middle" fill="#141414" stroke="#141414" stroke-width="0.11" transform="rotate(0.03 377.55 424.6)" >6</text>
<text x="392.25" y="365.2" font-size="8.7" text-anchor="middle" fill="#141414" stroke="#141414" stroke-width="0.11" transform="rotate(0.03 392.25 365.2)" >56</text>
<line x1="256.3" y1="314.5" x2="256.3" y2="434.1" stroke="#5e5e5e" stroke-width="0.8" />
<line x1="256.3" y1="433.7" x2="403.8" y2="433.7" stroke="#5e5e5e" stroke-width="0.8" />
<line x1="254.1" y1="433.7" x2="256.3" y2="433.7" stroke="#5e5e5e" stroke-width="0.7" />
<text x="252.2" y="436.83" font-size="8.7" text-anchor="end" fill="#141414" stroke="#141414" stroke-width="0.11" transform="rotate(0.03 252.2 436.83)" >0</text>
<line x1="255.1" y1="418.85" x2="256.3" y2="418.85" stroke="#5e5e5e" stroke-width="0.6" />
<line x1="254.1" y1="404" x2="256.3" y2="404" stroke="#5e5e5e" stroke-width="0.7" />
<text x="252.2" y="407.13" font-size="8.7" text-anchor="end" fill="#141414" stroke="#141414" stroke-width="0.11" transform="rotate(0.03 252.2 407.13)" >25</text>
<line x1="255.1" y1="389.15" x2="256.3" y2="389.15" stroke="#5e5e5e" stroke-width="0.6" />
<line x1="254.1" y1="374.3" x2="256.3" y2="374.3" stroke="#5e5e5e" stroke-width="0.7" />
<text x="252.2" y="377.43" font-size="8.7" text-anchor="end" fill="#141414" stroke="#141414" stroke-width="0.11" transform="rotate(0.03 252.2 377.43)" >50</text>
<line x1="255.1" y1="359.45" x2="256.3" y2="359.45" stroke="#5e5e5e" stroke-width="0.6" />
<line x1="254.1" y1="344.6" x2="256.3" y2="344.6" stroke="#5e5e5e" stroke-width="0.7" />
<text x="252.2" y="347.73" font-size="8.7" text-anchor="end" fill="#141414" stroke="#141414" stroke-width="0.11" transform="rotate(0.03 252.2 347.73)" >75</text>
<line x1="255.1" y1="329.75" x2="256.3" y2="329.75" stroke="#5e5e5e" stroke-width="0.6" />
<line x1="254.1" y1="314.9" x2="256.3" y2="314.9" stroke="#5e5e5e" stroke-width="0.7" />
<text x="252.2" y="318.03" font-size="8.7" text-anchor="end" fill="#141414" stroke="#141414" stroke-width="0.11" transform="rotate(0.03 252.2 318.03)" >100</text>
<line x1="274.7" y1="433.7" x2="274.7" y2="435.9" stroke="#5e5e5e" stroke-width="0.7" />
<text x="275.5" y="445.53" font-size="8.7" text-anchor="middle" fill="#141414" stroke="#141414" stroke-width="0.11" transform="rotate(0.03 275.5 445.53)" >1</text>
<line x1="293.1" y1="433.7" x2="293.1" y2="434.9" stroke="#5e5e5e" stroke-width="0.6" />
<line x1="311.2" y1="433.7" x2="311.2" y2="435.9" stroke="#5e5e5e" stroke-width="0.7" />
<text x="312" y="445.53" font-size="8.7" text-anchor="middle" fill="#141414" stroke="#141414" stroke-width="0.11" transform="rotate(0.03 312 445.53)" >5</text>
<line x1="329.6" y1="433.7" x2="329.6" y2="434.9" stroke="#5e5e5e" stroke-width="0.6" />
<line x1="348.1" y1="433.7" x2="348.1" y2="435.9" stroke="#5e5e5e" stroke-width="0.7" />
<text x="348.9" y="445.53" font-size="8.7" text-anchor="middle" fill="#141414" stroke="#141414" stroke-width="0.11" transform="rotate(0.03 348.9 445.53)" >10</text>
<line x1="366.5" y1="433.7" x2="366.5" y2="434.9" stroke="#5e5e5e" stroke-width="0.6" />
<line x1="384.9" y1="433.7" x2="384.9" y2="435.9" stroke="#5e5e5e" stroke-width="0.7" />
<text x="385.7" y="445.53" font-size="8.7" text-anchor="middle" fill="#141414" stroke="#141414" stroke-width="0.11" transform="rotate(0.03 385.7 445.53)" >20</text>
<line x1="403.5" y1="433.7" x2="403.5" y2="434.9" stroke="#5e5e5e" stroke-width="0.6" />
<text x="258.2" y="315.65" font-size="8.75" text-anchor="start" fill="#141414" stroke="#141414" stroke-width="0.11" transform="rotate(0.03 258.2 315.65)" >Based on core stack</text>
<text x="330.8" y="460.07" font-size="10.2" text-anchor="middle" fill="#141414" stroke="#141414" stroke-width="0.13" transform="rotate(0.03 330.8 460.07)" >Mass loading (mg cm<tspan dy="-4.08" font-size="6.43" stroke-width="0.05">-2</tspan><tspan dy="4.08">)</tspan></text>
<text x="230.7" y="383.47" font-size="10.2" text-anchor="middle" fill="#141414" stroke="#141414" stroke-width="0.13" transform="rotate(-90 230.7 379.8)" >C<tspan dy="1.63" font-size="6.43">vol</tspan><tspan dy="-1.63"> (F cm</tspan><tspan dy="-4.08" font-size="6.43" stroke-width="0.05">-3</tspan><tspan dy="4.08">)</tspan></text>
<text x="425.6" y="303.18" font-size="10.5" text-anchor="start" fill="#111" stroke="#111" stroke-width="0.06" font-weight="bold" transform="rotate(0.03 425.6 303.18)" >h</text>
<path d="M460.8,328.8 C463,329.05 469.4,329.5 474,330.3 C478.6,331.1 483.7,331.72 488.4,333.6 C493.1,335.48 498.05,338.4 502.2,341.6 C506.35,344.8 510.23,349.17 513.3,352.8 C516.37,356.43 518.72,360.7 520.6,363.4 C522.48,366.1 523.93,368.07 524.6,369 L516.6,369.6 C515.82,368.73 514.3,367.3 511.9,364.4 C509.5,361.5 506.12,355.7 502.2,352.2 C498.28,348.7 493,345.57 488.4,343.4 C483.8,341.23 479.2,340.13 474.6,339.2 C470,338.27 463.1,338.03 460.8,337.8 Z" fill="#bde2cd" stroke="none" stroke-width="0.8" />
<path d="M520.6,365.4 C522.15,365.63 526.33,365.6 529.9,366.8 C533.47,368 538.4,370.13 542,372.6 C545.6,375.07 548.87,378.37 551.5,381.6 C554.13,384.83 556.18,388.67 557.8,392 C559.42,395.33 560.63,400 561.2,401.6 L553.4,402.4 C552.83,400.6 551.5,394.77 550,391.6 C548.5,388.43 546.43,385.67 544.4,383.4 C542.37,381.13 540.37,379.57 537.8,378 C535.23,376.43 531.87,375.03 529,374 C526.13,372.97 522,372.17 520.6,371.8 Z" fill="#a9c9f0" stroke="none" stroke-width="0.8" />
<path d="M539.6,350 C540.67,350.5 543.77,351.4 546,353 C548.23,354.6 550.33,356.87 553,359.6 C555.67,362.33 559.17,366 562,369.4 C564.83,372.8 567.67,376.48 570,380 C572.33,383.52 574.3,387.17 576,390.5 C577.7,393.83 579.87,397.33 580.2,400 C580.53,402.67 579.27,404.5 578,406.5 C576.73,408.5 573.5,411.08 572.6,412 L568.6,411 C568.23,409.5 567.57,405.07 566.4,402 C565.23,398.93 563.4,395.53 561.6,392.6 C559.8,389.67 557.77,386.93 555.6,384.4 C553.43,381.87 550.77,379.37 548.6,377.4 C546.43,375.43 544.07,373.8 542.6,372.6 C541.13,371.4 540.27,370.6 539.8,370.2 Z" fill="#cdcdcd" stroke="none" stroke-width="0.8" />
<path d="M540.1,331.7 C541.35,331.88 544.93,331.38 547.6,332.8 C550.27,334.22 553.1,337.02 556.1,340.2 C559.1,343.38 562.77,347.82 565.6,351.9 C568.43,355.98 571.03,360.08 573.1,364.7 C575.17,369.32 576.92,375.35 578,379.6 C579.08,383.85 579.5,386.65 579.6,390.2 C579.7,393.75 579.3,397.77 578.6,400.9 C577.9,404.03 576.38,407.12 575.4,409 C574.42,410.88 573.15,411.67 572.7,412.2 L570.8,410 C570.87,408.67 571.23,404.67 571.2,402 C571.17,399.33 571.03,397.17 570.6,394 C570.17,390.83 569.53,386.7 568.6,383 C567.67,379.3 566.5,375.2 565,371.8 C563.5,368.4 561.5,365.6 559.6,362.6 C557.7,359.6 555.7,356.57 553.6,353.8 C551.5,351.03 549.02,348.23 547,346 C544.98,343.77 542.93,341.6 541.5,340.4 C540.07,339.2 538.92,339.07 538.4,338.8 Z" fill="#f4bcbc" stroke="none" stroke-width="0.8" opacity="0.85"/>
<line x1="456.9" y1="314.5" x2="456.9" y2="434.1" stroke="#5e5e5e" stroke-width="0.8" />
<line x1="456.9" y1="433.7" x2="606.4" y2="433.7" stroke="#5e5e5e" stroke-width="0.8" />
<line x1="454.5" y1="433.7" x2="456.9" y2="433.7" stroke="#5e5e5e" stroke-width="0.7" />
<text x="451.3" y="436.83" font-size="8.7" text-anchor="end" fill="#141414" stroke="#141414" stroke-width="0.11" transform="rotate(0.03 451.3 436.83)" >0.1</text>
<line x1="455.6" y1="422.86" x2="456.9" y2="422.86" stroke="#5e5e5e" stroke-width="0.5" />
<line x1="455.6" y1="416.52" x2="456.9" y2="416.52" stroke="#5e5e5e" stroke-width="0.5" />
<line x1="455.6" y1="412.03" x2="456.9" y2="412.03" stroke="#5e5e5e" stroke-width="0.5" />
<line x1="455.6" y1="408.54" x2="456.9" y2="408.54" stroke="#5e5e5e" stroke-width="0.5" />
<line x1="455.6" y1="405.69" x2="456.9" y2="405.69" stroke="#5e5e5e" stroke-width="0.5" />
<line x1="455.6" y1="403.28" x2="456.9" y2="403.28" stroke="#5e5e5e" stroke-width="0.5" />
<line x1="455.6" y1="401.19" x2="456.9" y2="401.19" stroke="#5e5e5e" stroke-width="0.5" />
<line x1="455.6" y1="399.35" x2="456.9" y2="399.35" stroke="#5e5e5e" stroke-width="0.5" />
<line x1="454.5" y1="397.7" x2="456.9" y2="397.7" stroke="#5e5e5e" stroke-width="0.7" />
<text x="451.3" y="400.83" font-size="8.7" text-anchor="end" fill="#141414" stroke="#141414" stroke-width="0.11" transform="rotate(0.03 451.3 400.83)" >1</text>
<line x1="455.6" y1="386.86" x2="456.9" y2="386.86" stroke="#5e5e5e" stroke-width="0.5" />
<line x1="455.6" y1="380.52" x2="456.9" y2="380.52" stroke="#5e5e5e" stroke-width="0.5" />
<line x1="455.6" y1="376.03" x2="456.9" y2="376.03" stroke="#5e5e5e" stroke-width="0.5" />
<line x1="455.6" y1="372.54" x2="456.9" y2="372.54" stroke="#5e5e5e" stroke-width="0.5" />
<line x1="455.6" y1="369.69" x2="456.9" y2="369.69" stroke="#5e5e5e" stroke-width="0.5" />
<line x1="455.6" y1="367.28" x2="456.9" y2="367.28" stroke="#5e5e5e" stroke-width="0.5" />
<line x1="455.6" y1="365.19" x2="456.9" y2="365.19" stroke="#5e5e5e" stroke-width="0.5" />
<line x1="455.6" y1="363.35" x2="456.9" y2="363.35" stroke="#5e5e5e" stroke-width="0.5" />
<line x1="454.5" y1="361.7" x2="456.9" y2="361.7" stroke="#5e5e5e" stroke-width="0.7" />
<text x="451.3" y="364.83" font-size="8.7" text-anchor="end" fill="#141414" stroke="#141414" stroke-width="0.11" transform="rotate(0.03 451.3 364.83)" >10</text>
<line x1="455.6" y1="350.86" x2="456.9" y2="350.86" stroke="#5e5e5e" stroke-width="0.5" />
<line x1="455.6" y1="344.52" x2="456.9" y2="344.52" stroke="#5e5e5e" stroke-width="0.5" />
<line x1="455.6" y1="340.03" x2="456.9" y2="340.03" stroke="#5e5e5e" stroke-width="0.5" />
<line x1="455.6" y1="336.54" x2="456.9" y2="336.54" stroke="#5e5e5e" stroke-width="0.5" />
<line x1="455.6" y1="333.69" x2="456.9" y2="333.69" stroke="#5e5e5e" stroke-width="0.5" />
<line x1="455.6" y1="331.28" x2="456.9" y2="331.28" stroke="#5e5e5e" stroke-width="0.5" />
<line x1="455.6" y1="329.19" x2="456.9" y2="329.19" stroke="#5e5e5e" stroke-width="0.5" />
<line x1="455.6" y1="327.35" x2="456.9" y2="327.35" stroke="#5e5e5e" stroke-width="0.5" />
<line x1="454.5" y1="325.7" x2="456.9" y2="325.7" stroke="#5e5e5e" stroke-width="0.7" />
<text x="451.3" y="328.83" font-size="8.7" text-anchor="end" fill="#141414" stroke="#141414" stroke-width="0.11" transform="rotate(0.03 451.3 328.83)" >100</text>
<line x1="455.6" y1="314.86" x2="456.9" y2="314.86" stroke="#5e5e5e" stroke-width="0.5" />
<line x1="458.4" y1="433.7" x2="458.4" y2="436.1" stroke="#5e5e5e" stroke-width="0.7" />
<text x="459" y="445.53" font-size="8.7" text-anchor="middle" fill="#141414" stroke="#141414" stroke-width="0.11" transform="rotate(0.03 459 445.53)" >1</text>
<line x1="467.78" y1="433.7" x2="467.78" y2="435" stroke="#5e5e5e" stroke-width="0.5" />
<line x1="473.26" y1="433.7" x2="473.26" y2="435" stroke="#5e5e5e" stroke-width="0.5" />
<line x1="477.15" y1="433.7" x2="477.15" y2="435" stroke="#5e5e5e" stroke-width="0.5" />
<line x1="480.17" y1="433.7" x2="480.17" y2="435" stroke="#5e5e5e" stroke-width="0.5" />
<line x1="482.64" y1="433.7" x2="482.64" y2="435" stroke="#5e5e5e" stroke-width="0.5" />
<line x1="484.72" y1="433.7" x2="484.72" y2="435" stroke="#5e5e5e" stroke-width="0.5" />
<line x1="486.53" y1="433.7" x2="486.53" y2="435" stroke="#5e5e5e" stroke-width="0.5" />
<line x1="488.12" y1="433.7" x2="488.12" y2="435" stroke="#5e5e5e" stroke-width="0.5" />
<line x1="489.55" y1="433.7" x2="489.55" y2="436.1" stroke="#5e5e5e" stroke-width="0.7" />
<text x="490.15" y="445.53" font-size="8.7" text-anchor="middle" fill="#141414" stroke="#141414" stroke-width="0.11" transform="rotate(0.03 490.15 445.53)" >10</text>
<line x1="498.93" y1="433.7" x2="498.93" y2="435" stroke="#5e5e5e" stroke-width="0.5" />
<line x1="504.41" y1="433.7" x2="504.41" y2="435" stroke="#5e5e5e" stroke-width="0.5" />
<line x1="508.3" y1="433.7" x2="508.3" y2="435" stroke="#5e5e5e" stroke-width="0.5" />
<line x1="511.32" y1="433.7" x2="511.32" y2="435" stroke="#5e5e5e" stroke-width="0.5" />
<line x1="513.79" y1="433.7" x2="513.79" y2="435" stroke="#5e5e5e" stroke-width="0.5" />
<line x1="515.87" y1="433.7" x2="515.87" y2="435" stroke="#5e5e5e" stroke-width="0.5" />
<line x1="517.68" y1="433.7" x2="517.68" y2="435" stroke="#5e5e5e" stroke-width="0.5" />
<line x1="519.27" y1="433.7" x2="519.27" y2="435" stroke="#5e5e5e" stroke-width="0.5" />
<line x1="520.7" y1="433.7" x2="520.7" y2="436.1" stroke="#5e5e5e" stroke-width="0.7" />
<text x="521.3" y="445.53" font-size="8.7" text-anchor="middle" fill="#141414" stroke="#141414" stroke-width="0.11" transform="rotate(0.03 521.3 445.53)" >100</text>
<line x1="530.08" y1="433.7" x2="530.08" y2="435" stroke="#5e5e5e" stroke-width="0.5" />
<line x1="535.56" y1="433.7" x2="535.56" y2="435" stroke="#5e5e5e" stroke-width="0.5" />
<line x1="539.45" y1="433.7" x2="539.45" y2="435" stroke="#5e5e5e" stroke-width="0.5" />
<line x1="542.47" y1="433.7" x2="542.47" y2="435" stroke="#5e5e5e" stroke-width="0.5" />
<line x1="544.94" y1="433.7" x2="544.94" y2="435" stroke="#5e5e5e" stroke-width="0.5" />
<line x1="547.02" y1="433.7" x2="547.02" y2="435" stroke="#5e5e5e" stroke-width="0.5" />
<line x1="548.83" y1="433.7" x2="548.83" y2="435" stroke="#5e5e5e" stroke-width="0.5" />
<line x1="550.42" y1="433.7" x2="550.42" y2="435" stroke="#5e5e5e" stroke-width="0.5" />
<line x1="551.85" y1="433.7" x2="551.85" y2="436.1" stroke="#5e5e5e" stroke-width="0.7" />
<text x="552.45" y="445.53" font-size="8.7" text-anchor="middle" fill="#141414" stroke="#141414" stroke-width="0.11" transform="rotate(0.03 552.45 445.53)" >1000</text>
<line x1="561.23" y1="433.7" x2="561.23" y2="435" stroke="#5e5e5e" stroke-width="0.5" />
<line x1="566.71" y1="433.7" x2="566.71" y2="435" stroke="#5e5e5e" stroke-width="0.5" />
<line x1="570.6" y1="433.7" x2="570.6" y2="435" stroke="#5e5e5e" stroke-width="0.5" />
<line x1="573.62" y1="433.7" x2="573.62" y2="435" stroke="#5e5e5e" stroke-width="0.5" />
<line x1="576.09" y1="433.7" x2="576.09" y2="435" stroke="#5e5e5e" stroke-width="0.5" />
<line x1="578.17" y1="433.7" x2="578.17" y2="435" stroke="#5e5e5e" stroke-width="0.5" />
<line x1="579.98" y1="433.7" x2="579.98" y2="435" stroke="#5e5e5e" stroke-width="0.5" />
<line x1="581.57" y1="433.7" x2="581.57" y2="435" stroke="#5e5e5e" stroke-width="0.5" />
<line x1="583" y1="433.7" x2="583" y2="436.1" stroke="#5e5e5e" stroke-width="0.7" />
<text x="583.6" y="445.53" font-size="8.7" text-anchor="middle" fill="#141414" stroke="#141414" stroke-width="0.11" transform="rotate(0.03 583.6 445.53)" >10000</text>
<line x1="592.38" y1="433.7" x2="592.38" y2="435" stroke="#5e5e5e" stroke-width="0.5" />
<line x1="597.86" y1="433.7" x2="597.86" y2="435" stroke="#5e5e5e" stroke-width="0.5" />
<line x1="601.75" y1="433.7" x2="601.75" y2="435" stroke="#5e5e5e" stroke-width="0.5" />
<line x1="604.77" y1="433.7" x2="604.77" y2="435" stroke="#5e5e5e" stroke-width="0.5" />
<text x="537.2" y="460.37" font-size="10.2" text-anchor="middle" fill="#141414" stroke="#141414" stroke-width="0.13" transform="rotate(0.03 537.2 460.37)" >P<tspan dy="1.63" font-size="6.43">vol</tspan><tspan dy="-1.63"> (W L</tspan><tspan dy="-4.08" font-size="6.43" stroke-width="0.05">-1</tspan><tspan dy="4.08">)</tspan></text>
<text x="433.7" y="378.17" font-size="10.2" text-anchor="middle" fill="#141414" stroke="#141414" stroke-width="0.13" transform="rotate(-90 433.7 374.5)" >E<tspan dy="1.63" font-size="6.43">vol</tspan><tspan dy="-1.63"> (Wh L</tspan><tspan dy="-4.08" font-size="6.43" stroke-width="0.05">-1</tspan><tspan dy="4.08">)</tspan></text>
<text x="463.8" y="324.23" font-size="7.3" text-anchor="start" fill="#86b058" stroke="#86b058" stroke-width="0.09" transform="rotate(0.03 463.8 324.23)" >Lead-acid batteries</text>
<text x="518.6" y="387.73" font-size="7.3" text-anchor="middle" fill="#5b97e0" stroke="#5b97e0" stroke-width="0.09" transform="rotate(0.03 518.6 387.73)" >Commercial</text>
<text x="518.6" y="395.53" font-size="7.3" text-anchor="middle" fill="#5b97e0" stroke="#5b97e0" stroke-width="0.09" transform="rotate(0.03 518.6 395.53)" >supercapacitors</text>
<text x="515.8" y="418.99" font-size="7.2" text-anchor="middle" fill="#8a8a8a" stroke="#8a8a8a" stroke-width="0.09" transform="rotate(0.03 515.8 418.99)" >Thin film Li battery</text>
<text x="515.2" y="426.49" font-size="7.2" text-anchor="middle" fill="#8a8a8a" stroke="#8a8a8a" stroke-width="0.09" transform="rotate(0.03 515.2 426.49)" >4 V 500 &#956;Ah</text>
<text x="549.9" y="320.76" font-size="7.4" text-anchor="start" fill="#d8202c" stroke="#d8202c" stroke-width="0.1" transform="rotate(0.03 549.9 320.76)" >Microhole arrayed</text>
<line x1="572.5" y1="326.2" x2="566.6" y2="336.6" stroke="#d8202c" stroke-width="0.7" />
<polygon points="565.5,338.8 565.6,334.8 568.2,336.3" fill="#d8202c"/>
<text x="570.4" y="424.99" font-size="7.2" text-anchor="middle" fill="#111" stroke="#111" stroke-width="0.09" transform="rotate(0.03 570.4 424.99)" >Monolith</text>
<line x1="566.4" y1="419" x2="566.4" y2="411.6" stroke="#111" stroke-width="0.9" />
<polygon points="566.4,409.2 564.7,413.0 568.1,413.0" fill="#111"/>
<polyline points="463,370 468.5,373.1 471.7,376.4 474.1,379.4 475.3,382.1 478.1,388.1 479.5,406.2 480.8,423.2" fill="none" stroke="#8c8c8c" stroke-width="0.6" />
<polygon points="461.15,368.7 464.85,368.7 463,371.9" fill="#8c8c8c"/>
<polygon points="466.65,371.8 470.35,371.8 468.5,375" fill="#8c8c8c"/>
<polygon points="469.85,375.1 473.55,375.1 471.7,378.3" fill="#8c8c8c"/>
<polygon points="472.25,378.1 475.95,378.1 474.1,381.3" fill="#8c8c8c"/>
<polygon points="473.45,380.8 477.15,380.8 475.3,384" fill="#8c8c8c"/>
<polygon points="476.25,386.8 479.95,386.8 478.1,390" fill="#8c8c8c"/>
<polygon points="477.65,404.9 481.35,404.9 479.5,408.1" fill="#8c8c8c"/>
<polygon points="478.95,421.9 482.65,421.9 480.8,425.1" fill="#8c8c8c"/>
<rect x="548.3" y="326.6" width="2.6" height="2.6" fill="#333" />
<rect x="548.65" y="326.95" width="1.9" height="0.85" fill="#fff" opacity="0.8"/>
<text x="552.9" y="329.25" font-size="5.7" text-anchor="start" fill="#555" stroke="#555" stroke-width="0.07" transform="rotate(0.03 552.9 329.25)" >[2]</text>
<text x="517.9" y="332.65" font-size="5.7" text-anchor="start" fill="#7a4060" stroke="#7a4060" stroke-width="0.07" transform="rotate(0.03 517.9 332.65)" >[5]</text>
<rect x="524.8" y="331.7" width="2.6" height="2.6" fill="#7a4060" />
<rect x="525.15" y="332.05" width="1.9" height="0.85" fill="#fff" opacity="0.8"/>
<text x="528" y="336.55" font-size="5.7" text-anchor="start" fill="#52b052" stroke="#52b052" stroke-width="0.07" transform="rotate(0.03 528 336.55)" >[16]</text>
<rect x="537.7" y="332.7" width="2.6" height="2.6" fill="#52b052" />
<rect x="538.05" y="333.05" width="1.9" height="0.85" fill="#fff" opacity="0.8"/>
<text x="508.2" y="343.55" font-size="5.7" text-anchor="start" fill="#444" stroke="#444" stroke-width="0.07" transform="rotate(0.03 508.2 343.55)" >[48]</text>
<rect x="519.3" y="339.5" width="2.6" height="2.6" fill="#444" />
<rect x="519.65" y="339.85" width="1.9" height="0.85" fill="#fff" opacity="0.8"/>
<rect x="529.7" y="337.2" width="2.6" height="2.6" fill="#a0a040" />
<rect x="530.05" y="337.55" width="1.9" height="0.85" fill="#fff" opacity="0.8"/>
<text x="530.2" y="345.65" font-size="5.7" text-anchor="middle" fill="#a0a040" stroke="#a0a040" stroke-width="0.07" transform="rotate(0.03 530.2 345.65)" >[38]</text>
<text x="545" y="345.65" font-size="5.7" text-anchor="middle" fill="#666" stroke="#666" stroke-width="0.07" transform="rotate(0.03 545 345.65)" >[36]</text>
<rect x="545.7" y="336.5" width="2.6" height="2.6" fill="#555" />
<rect x="546.05" y="336.85" width="1.9" height="0.85" fill="#fff" opacity="0.8"/>
<text x="517.1" y="354.85" font-size="5.7" text-anchor="start" fill="#e04444" stroke="#e04444" stroke-width="0.07" transform="rotate(0.03 517.1 354.85)" >[49]</text>
<rect x="528.2" y="347.2" width="2.6" height="2.6" fill="#e04444" />
<rect x="528.55" y="347.55" width="1.9" height="0.85" fill="#fff" opacity="0.8"/>
<rect x="534.9" y="347.2" width="2.6" height="2.6" fill="#e8853a" />
<rect x="535.25" y="347.55" width="1.9" height="0.85" fill="#fff" opacity="0.8"/>
<text x="535.4" y="355.55" font-size="5.7" text-anchor="middle" fill="#e8853a" stroke="#e8853a" stroke-width="0.07" transform="rotate(0.03 535.4 355.55)" >[15]</text>
<rect x="538.9" y="346.9" width="2.6" height="2.6" fill="#4a86d4" />
<rect x="539.25" y="347.25" width="1.9" height="0.85" fill="#fff" opacity="0.8"/>
<text x="547.6" y="353.75" font-size="5.7" text-anchor="middle" fill="#4a86d4" stroke="#4a86d4" stroke-width="0.07" transform="rotate(0.03 547.6 353.75)" >[45]</text>
<text x="517.1" y="364.45" font-size="5.7" text-anchor="start" fill="#3a6ab4" stroke="#3a6ab4" stroke-width="0.07" transform="rotate(0.03 517.1 364.45)" >[51]</text>
<rect x="528.5" y="361.8" width="2.6" height="2.6" fill="#3a6ab4" />
<rect x="528.85" y="362.15" width="1.9" height="0.85" fill="#fff" opacity="0.8"/>
<rect x="537" y="360.3" width="2.6" height="2.6" fill="#40a860" />
<rect x="537.35" y="360.65" width="1.9" height="0.85" fill="#fff" opacity="0.8"/>
<text x="536.5" y="368.95" font-size="5.7" text-anchor="middle" fill="#40a860" stroke="#40a860" stroke-width="0.07" transform="rotate(0.03 536.5 368.95)" >[50]</text>
<rect x="551.4" y="367.3" width="2.6" height="2.6" fill="#a080d0" />
<rect x="551.75" y="367.65" width="1.9" height="0.85" fill="#fff" opacity="0.8"/>
<text x="544.4" y="376.95" font-size="5.7" text-anchor="middle" fill="#a080d0" stroke="#a080d0" stroke-width="0.07" transform="rotate(0.03 544.4 376.95)" >[47]</text>
<rect x="579.7" y="331.9" width="2.6" height="2.6" fill="#30b8c8" />
<rect x="580.05" y="332.25" width="1.9" height="0.85" fill="#fff" opacity="0.8"/>
<text x="581" y="340.05" font-size="5.7" text-anchor="middle" fill="#30b8c8" stroke="#30b8c8" stroke-width="0.07" transform="rotate(0.03 581 340.05)" >[1]</text>
<rect x="582.5" y="346.1" width="2.6" height="2.6" fill="#d0a030" />
<rect x="582.85" y="346.45" width="1.9" height="0.85" fill="#fff" opacity="0.8"/>
<text x="583.8" y="355.65" font-size="5.7" text-anchor="middle" fill="#d0a030" stroke="#d0a030" stroke-width="0.07" transform="rotate(0.03 583.8 355.65)" >[42]</text>
<rect x="591.4" y="395" width="2.6" height="2.6" fill="#30a860" />
<rect x="591.75" y="395.35" width="1.9" height="0.85" fill="#fff" opacity="0.8"/>
<text x="592.7" y="403.85" font-size="5.7" text-anchor="middle" fill="#30a860" stroke="#30a860" stroke-width="0.07" transform="rotate(0.03 592.7 403.85)" >[37]</text>
<polyline points="540.5,337.2 562.4,352.1 569.6,363.3 575.2,383.3 574.6,400" fill="none" stroke="#e8323c" stroke-width="0.55" />
<polyline points="543,337.6 552,342.6 563.2,359.6 569.9,378 572.4,409.1" fill="none" stroke="#e8323c" stroke-width="0.6" />
<polyline points="542.4,353.7 551.7,364.9 562.9,376.9 571,386.3 577.6,400.3" fill="none" stroke="#3a3a3a" stroke-width="0.55" />
<polyline points="544.6,369.7 553.6,377.7 564.5,391.6 570.1,406.7" fill="none" stroke="#3a3a3a" stroke-width="0.6" />
<polygon points="540.5,334.5 541.13,336.33 543.07,336.37 541.53,337.53 542.09,339.38 540.5,338.28 538.91,339.38 539.47,337.53 537.93,336.37 539.87,336.33" fill="#fff" stroke="#e8323c" stroke-width="0.55" stroke-linejoin="miter"/>
<polygon points="562.4,349.4 563.03,351.23 564.97,351.27 563.43,352.43 563.99,354.28 562.4,353.18 560.81,354.28 561.37,352.43 559.83,351.27 561.77,351.23" fill="#fff" stroke="#e8323c" stroke-width="0.55" stroke-linejoin="miter"/>
<polygon points="569.6,360.6 570.23,362.43 572.17,362.47 570.63,363.63 571.19,365.48 569.6,364.38 568.01,365.48 568.57,363.63 567.03,362.47 568.97,362.43" fill="#fff" stroke="#e8323c" stroke-width="0.55" stroke-linejoin="miter"/>
<polygon points="575.2,380.6 575.83,382.43 577.77,382.47 576.23,383.63 576.79,385.48 575.2,384.38 573.61,385.48 574.17,383.63 572.63,382.47 574.57,382.43" fill="#fff" stroke="#e8323c" stroke-width="0.55" stroke-linejoin="miter"/>
<polygon points="543,334.6 543.71,336.63 545.85,336.67 544.14,337.97 544.76,340.03 543,338.8 541.24,340.03 541.86,337.97 540.15,336.67 542.29,336.63" fill="#e8323c"/>
<polygon points="552,339.6 552.71,341.63 554.85,341.67 553.14,342.97 553.76,345.03 552,343.8 550.24,345.03 550.86,342.97 549.15,341.67 551.29,341.63" fill="#e8323c"/>
<polygon points="563.2,356.6 563.91,358.63 566.05,358.67 564.34,359.97 564.96,362.03 563.2,360.8 561.44,362.03 562.06,359.97 560.35,358.67 562.49,358.63" fill="#e8323c"/>
<polygon points="569.9,375 570.61,377.03 572.75,377.07 571.04,378.37 571.66,380.43 569.9,379.2 568.14,380.43 568.76,378.37 567.05,377.07 569.19,377.03" fill="#e8323c"/>
<polygon points="572.4,406.1 573.11,408.13 575.25,408.17 573.54,409.47 574.16,411.53 572.4,410.3 570.64,411.53 571.26,409.47 569.55,408.17 571.69,408.13" fill="#e8323c"/>
<polygon points="542.4,351 543.03,352.83 544.97,352.87 543.43,354.03 543.99,355.88 542.4,354.78 540.81,355.88 541.37,354.03 539.83,352.87 541.77,352.83" fill="#fff" stroke="#3a3a3a" stroke-width="0.55" stroke-linejoin="miter"/>
<polygon points="551.7,362.2 552.33,364.03 554.27,364.07 552.73,365.23 553.29,367.08 551.7,365.98 550.11,367.08 550.67,365.23 549.13,364.07 551.07,364.03" fill="#fff" stroke="#3a3a3a" stroke-width="0.55" stroke-linejoin="miter"/>
<polygon points="562.9,374.2 563.53,376.03 565.47,376.07 563.93,377.23 564.49,379.08 562.9,377.98 561.31,379.08 561.87,377.23 560.33,376.07 562.27,376.03" fill="#fff" stroke="#3a3a3a" stroke-width="0.55" stroke-linejoin="miter"/>
<polygon points="571,383.6 571.63,385.43 573.57,385.47 572.03,386.63 572.59,388.48 571,387.38 569.41,388.48 569.97,386.63 568.43,385.47 570.37,385.43" fill="#fff" stroke="#3a3a3a" stroke-width="0.55" stroke-linejoin="miter"/>
<polygon points="577.6,397.6 578.23,399.43 580.17,399.47 578.63,400.63 579.19,402.48 577.6,401.38 576.01,402.48 576.57,400.63 575.03,399.47 576.97,399.43" fill="#fff" stroke="#3a3a3a" stroke-width="0.55" stroke-linejoin="miter"/>
<polygon points="544.6,366.7 545.31,368.73 547.45,368.77 545.74,370.07 546.36,372.13 544.6,370.9 542.84,372.13 543.46,370.07 541.75,368.77 543.89,368.73" fill="#3a3a3a"/>
<polygon points="553.6,374.7 554.31,376.73 556.45,376.77 554.74,378.07 555.36,380.13 553.6,378.9 551.84,380.13 552.46,378.07 550.75,376.77 552.89,376.73" fill="#3a3a3a"/>
<polygon points="564.5,388.6 565.21,390.63 567.35,390.67 565.64,391.97 566.26,394.03 564.5,392.8 562.74,394.03 563.36,391.97 561.65,390.67 563.79,390.63" fill="#3a3a3a"/>
<polygon points="570.1,403.7 570.81,405.73 572.95,405.77 571.24,407.07 571.86,409.13 570.1,407.9 568.34,409.13 568.96,407.07 567.25,405.77 569.39,405.73" fill="#3a3a3a"/>
<polygon points="585,364.4 585.63,366.23 587.57,366.27 586.03,367.43 586.59,369.28 585,368.18 583.41,369.28 583.97,367.43 582.43,366.27 584.37,366.23" fill="#fff" stroke="#3a3a3a" stroke-width="0.55" stroke-linejoin="miter"/>
<polygon points="591.4,364.4 592.03,366.23 593.97,366.27 592.43,367.43 592.99,369.28 591.4,368.18 589.81,369.28 590.37,367.43 588.83,366.27 590.77,366.23" fill="#fff" stroke="#e8323c" stroke-width="0.55" stroke-linejoin="miter"/>
<polygon points="585,373.9 585.71,375.93 587.85,375.97 586.14,377.27 586.76,379.33 585,378.1 583.24,379.33 583.86,377.27 582.15,375.97 584.29,375.93" fill="#3a3a3a"/>
<polygon points="591.4,373.9 592.11,375.93 594.25,375.97 592.54,377.27 593.16,379.33 591.4,378.1 589.64,379.33 590.26,377.27 588.55,375.97 590.69,375.93" fill="#e8323c"/>
<text x="597.6" y="369.86" font-size="7.4" text-anchor="start" fill="#141414" stroke="#141414" stroke-width="0.1" transform="rotate(0.03 597.6 369.86)" >5 mg cm<tspan dy="-2.96" font-size="4.66" stroke-width="0.05">-2</tspan></text>
<text x="597.6" y="379.66" font-size="7.4" text-anchor="start" fill="#141414" stroke="#141414" stroke-width="0.1" transform="rotate(0.03 597.6 379.66)" >10 mg cm<tspan dy="-2.96" font-size="4.66" stroke-width="0.05">-2</tspan></text>
</svg>
</body></html>
